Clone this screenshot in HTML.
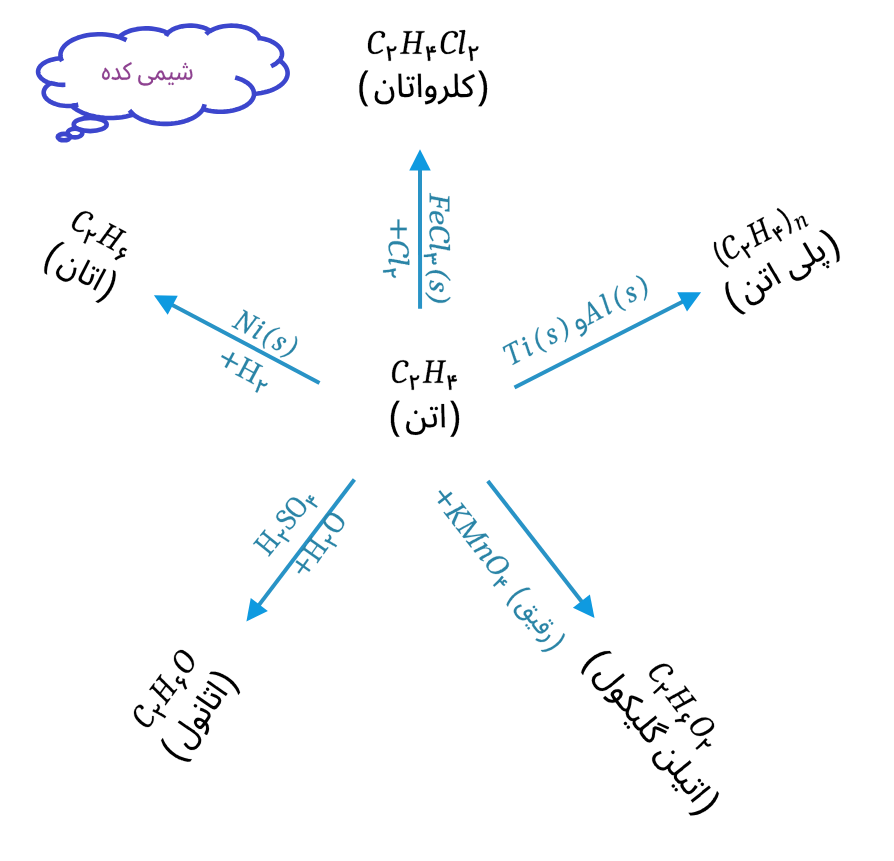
<!DOCTYPE html><html><head><meta charset="utf-8"><style>html,body{margin:0;padding:0;background:#fff;width:894px;height:861px;overflow:hidden;font-family:"Liberation Sans",sans-serif}svg{position:absolute;left:0;top:0}</style></head><body>
<svg width="894" height="861" viewBox="0 0 894 861">
<rect width="894" height="861" fill="#fff"/>
<g fill="none" stroke="#3c46cd" stroke-width="4.60">
<path d="M60.80,57.97 L60.57,56.86 L60.46,55.75 L60.45,54.64 L60.56,53.54 L60.77,52.43 L61.10,51.31 L61.56,50.19 L62.13,49.06 L62.85,47.92 L63.71,46.78 L64.73,45.62 L65.93,44.46 L67.32,43.30 L68.91,42.14 L70.74,41.00 L72.80,39.88 L75.12,38.81 L77.71,37.80 L80.56,36.86 L83.67,36.04 L87.01,35.34 L90.56,34.80 L94.25,34.44 L98.04,34.27 L101.86,34.30 L105.63,34.53 L109.28,34.94 L112.78,35.53 L116.05,36.27 L119.09,37.13 L120.06,36.22 L121.18,35.31 L122.47,34.40 L123.93,33.51 L125.58,32.64 L127.44,31.81 L129.50,31.02 L131.77,30.30 L134.23,29.67 L136.88,29.14 L139.68,28.74 L142.59,28.47 L145.56,28.36 L148.55,28.40 L151.49,28.60 L154.35,28.94 L157.07,29.41 L159.62,30.00 L161.98,30.68 L164.14,31.43 L166.09,32.25 L167.84,33.10 L168.60,32.35 L169.48,31.59 L170.50,30.84 L171.66,30.09 L172.98,29.36 L174.47,28.66 L176.13,27.99 L177.97,27.37 L179.97,26.83 L182.14,26.36 L184.43,26.00 L186.83,25.75 L189.30,25.63 L191.78,25.64 L194.24,25.78 L196.63,26.04 L198.91,26.42 L201.05,26.90 L203.04,27.45 L204.85,28.08 L206.49,28.75 L207.95,29.46 L209.25,30.19 L210.39,30.94 L211.75,30.14 L213.27,29.37 L214.98,28.63 L216.87,27.94 L218.94,27.31 L221.18,26.75 L223.57,26.30 L226.10,25.95 L228.72,25.73 L231.39,25.64 L234.07,25.69 L236.71,25.88 L239.27,26.19 L241.70,26.62 L243.99,27.14 L246.11,27.76 L248.05,28.43 L249.80,29.16 L251.38,29.93 L252.78,30.72 L254.02,31.52 L255.10,32.34 L256.05,33.16 L256.86,33.97 L257.56,34.78 L258.15,35.59 L258.64,36.39 L259.03,37.19 L259.34,37.98 L262.03,38.44 L264.55,39.02 L266.89,39.69 L269.04,40.44 L270.98,41.24 L272.71,42.08 L274.26,42.95 L275.63,43.84 L276.83,44.74 L277.87,45.64 L278.77,46.53 L279.54,47.43 L280.19,48.31 L280.73,49.19 L281.17,50.07 L281.51,50.93 L281.76,51.79 L281.93,52.65 L282.01,53.51 L282.01,54.36 L281.93,55.22 L281.76,56.07 L281.51,56.94 L281.16,57.80 L280.72,58.68 L280.18,59.56 L279.53,60.44 L281.06,61.59 L282.39,62.74 L283.54,63.89 L284.52,65.03 L285.34,66.16 L286.03,67.29 L286.58,68.40 L287.00,69.51 L287.32,70.62 L287.52,71.71 L287.61,72.81 L287.60,73.90 L287.47,75.00 L287.24,76.10 L286.90,77.20 L286.44,78.31 L285.85,79.43 L285.13,80.56 L284.27,81.70 L283.25,82.84 L282.05,83.99 L280.67,85.14 L279.08,86.28 L277.27,87.41 L275.23,88.52 L272.93,89.58 L270.38,90.59 L267.57,91.51 L264.51,92.34 L261.21,93.03 L257.72,93.58 L254.07,93.96 L254.01,94.89 L253.86,95.83 L253.61,96.77 L253.26,97.72 L252.82,98.67 L252.26,99.63 L251.58,100.59 L250.77,101.57 L249.82,102.55 L248.71,103.53 L247.44,104.51 L245.99,105.48 L244.34,106.43 L242.48,107.36 L240.41,108.24 L238.11,109.07 L235.59,109.82 L232.87,110.46 L229.96,110.99 L226.90,111.38 L223.74,111.62 L220.52,111.70 L217.31,111.60 L214.15,111.35 L211.11,110.94 L208.22,110.40 L205.52,109.74 L203.03,108.98 L202.32,110.12 L201.47,111.26 L200.46,112.42 L199.27,113.57 L197.90,114.73 L196.32,115.89 L194.52,117.03 L192.47,118.15 L190.17,119.23 L187.60,120.25 L184.77,121.19 L181.68,122.03 L178.36,122.73 L174.83,123.28 L171.14,123.66 L167.36,123.84 L163.54,123.83 L159.77,123.61 L156.11,123.21 L152.60,122.63 L149.31,121.90 L146.26,121.05 L143.47,120.10 L140.95,119.07 L138.69,117.98 L136.68,116.86 L134.91,115.71 L133.37,114.55 L129.86,115.58 L126.05,116.45 L121.99,117.16 L117.72,117.66 L113.31,117.93 L108.85,117.96 L104.42,117.76 L100.11,117.33 L95.98,116.68 L92.09,115.85 L88.49,114.87 L85.20,113.76 L82.23,112.56 L79.57,111.29 L77.22,109.98 L75.15,108.64 L73.35,107.29 L71.79,105.93 L69.37,106.02 L66.95,105.98 L64.55,105.82 L62.24,105.55 L60.03,105.16 L57.95,104.69 L56.03,104.14 L54.27,103.53 L52.68,102.87 L51.25,102.18 L49.99,101.46 L48.87,100.73 L47.89,100.00 L47.03,99.26 L46.30,98.52 L45.67,97.78 L45.14,97.05 L44.71,96.33 L44.36,95.61 L44.08,94.90 L43.89,94.19 L43.76,93.48 L43.71,92.77 L43.72,92.07 L43.80,91.36 L43.96,90.65 L44.19,89.94 L44.49,89.23 L44.88,88.51 L45.35,87.78 L45.92,87.05 L46.59,86.31 L47.37,85.57 L48.27,84.83 L49.31,84.10 L50.49,83.37 L48.75,82.77 L47.17,82.12 L45.75,81.43 L44.48,80.73 L43.37,80.01 L42.39,79.28 L41.54,78.55 L40.80,77.82 L40.17,77.09 L39.63,76.37 L39.19,75.66 L38.82,74.95 L38.54,74.25 L38.33,73.55 L38.18,72.86 L38.11,72.16 L38.10,71.47 L38.15,70.78 L38.28,70.08 L38.47,69.39 L38.73,68.69 L39.07,67.98 L39.49,67.27 L40.00,66.55 L40.60,65.83 L41.30,65.10 L42.12,64.37 L43.06,63.64 L44.13,62.92 L45.35,62.20 L46.72,61.51 L48.25,60.85 L49.95,60.23 L51.81,59.66 L53.82,59.17 L55.97,58.77 L58.24,58.46 L60.59,58.27 Z M65.37,84.80 62.74,84.84 L60.12,84.73 L57.57,84.47 L55.14,84.09 L52.86,83.59 L50.76,82.99 M78.26,104.63 76.75,104.92 L75.17,105.17 L73.54,105.36 L71.87,105.50 M133.35,114.16 132.19,113.16 L131.17,112.17 L130.28,111.18 L129.50,110.20 M204.59,104.29 204.37,105.37 L204.05,106.45 L203.61,107.54 L203.05,108.63 M235.17,77.48 237.77,78.23 L240.14,79.07 L242.28,79.98 L244.18,80.92 L245.87,81.90 L247.36,82.90 L248.65,83.90 L249.77,84.91 L250.73,85.91 L251.54,86.91 L252.22,87.89 L252.77,88.88 L253.21,89.85 L253.54,90.82 L253.77,91.78 L253.90,92.74 L253.93,93.70 M279.41,60.20 278.52,61.23 L277.45,62.25 L276.19,63.28 L274.72,64.31 L273.01,65.31 L271.06,66.28 M259.37,37.63 259.58,38.36 L259.72,39.07 L259.80,39.79 L259.81,40.51 M206.04,34.28 206.86,33.37 L207.83,32.45 L208.98,31.53 L210.32,30.62 M166.02,36.03 166.38,35.25 L166.84,34.46 L167.41,33.67 L168.09,32.87 M119.06,37.10 121.16,37.81 L123.10,38.56 L124.90,39.35 L126.56,40.17 M62.11,61.19 61.68,60.38 L61.32,59.57 L61.03,58.77 L60.80,57.97" stroke-linejoin="round"/>
<ellipse cx="90.2" cy="124.5" rx="16.5" ry="6.6"/>
<ellipse cx="75" cy="133" rx="7.3" ry="4.4"/>
<ellipse cx="64" cy="137.1" rx="6.3" ry="3.2"/>
</g>
<line x1="420.05" y1="308.70" x2="420.01" y2="169.50" stroke="#2893c6" stroke-width="4.00"/><path d="M420.00 149.20L430.76 170.50L409.26 170.50Z" fill="#0f9ae0"/>
<line x1="319.50" y1="383.00" x2="171.84" y2="304.71" stroke="#2893c6" stroke-width="4.00"/><path d="M153.90 295.20L177.75 295.68L167.68 314.68Z" fill="#0f9ae0"/>
<line x1="514.50" y1="387.50" x2="683.02" y2="301.43" stroke="#2893c6" stroke-width="4.00"/><path d="M701.10 292.20L687.02 311.46L677.24 292.31Z" fill="#0f9ae0"/>
<line x1="354.40" y1="479.50" x2="258.69" y2="605.34" stroke="#2893c6" stroke-width="4.00"/><path d="M246.40 621.50L250.74 598.04L267.85 611.05Z" fill="#0f9ae0"/>
<line x1="487.80" y1="481.00" x2="582.03" y2="601.98" stroke="#2893c6" stroke-width="4.00"/><path d="M594.50 618.00L572.93 607.80L589.89 594.59Z" fill="#0f9ae0"/>
<path transform="translate(423.30 45.45) rotate(0.00) scale(1.0502 1.0049) translate(-52.750 -15.375)" d="M104.88 16.38L103.62 16.38L103.38 16.12L102.88 17.88L102.12 18.62L101.38 18.62L101.12 18.88L99.12 18.62L98.62 18.12L98.12 16.12L95.88 16.62L96.38 19.62L96.62 19.88L96.62 21.12L96.88 21.38L96.88 22.88L97.12 23.12L97.38 27.12L97.62 27.38L97.62 30.62L99.88 30.62L99.88 26.62L99.62 26.38L99.62 23.88L99.38 23.62L99.12 21.12L99.38 20.88L101.12 21.12L103.62 20.38L104.38 19.62L105.12 17.88L105.12 16.88L105.38 16.62ZM63.88 16.12L61.38 16.12L60.12 16.88L59.62 17.88L59.62 19.12L60.12 19.88L59.88 20.38L58.62 20.38L58.38 20.12L58.38 19.12L58.12 18.88L58.12 17.88L57.62 16.12L55.38 16.62L55.88 19.62L56.12 19.88L56.12 21.12L56.38 21.38L56.38 22.88L56.62 23.12L56.88 27.12L57.12 27.38L57.12 30.62L59.38 30.62L59.38 26.88L59.12 26.62L58.88 22.62L59.12 22.38L63.12 22.38L64.88 21.62L64.62 19.62L63.38 20.12L62.62 20.12L61.62 18.88L62.12 18.12L63.88 18.12L63.88 16.62L64.12 16.38ZM26.88 16.38L25.62 16.38L25.38 16.12L24.88 17.88L24.12 18.62L23.38 18.62L23.12 18.88L20.88 18.62L20.38 17.88L20.12 16.12L17.88 16.62L18.38 19.88L18.62 20.12L18.62 21.38L18.88 21.62L18.88 23.38L19.12 23.62L19.12 25.38L19.38 25.62L19.38 27.88L19.62 28.12L19.62 30.62L21.88 30.62L21.88 27.38L21.62 27.12L21.62 24.62L21.38 24.38L21.12 21.12L21.38 20.88L22.12 21.12L24.38 20.88L25.88 20.12L26.88 18.62L26.88 17.88L27.12 17.62L27.12 16.62ZM33.88 1.12L33.88 2.12L34.12 2.38L35.12 2.38L36.62 3.12L36.38 5.88L36.12 6.12L36.12 7.38L35.62 9.12L35.62 10.62L35.38 10.88L35.38 12.12L34.88 13.88L34.88 15.38L34.62 15.62L33.88 21.38L33.12 22.12L30.88 22.62L30.88 23.38L30.62 23.62L39.38 23.62L39.38 22.62L37.88 22.38L36.62 21.62L36.62 20.12L36.88 19.88L36.88 18.62L37.38 16.88L37.62 13.88L38.12 12.88L46.38 12.88L46.62 13.12L46.62 14.62L46.38 14.88L46.38 16.38L46.12 16.62L46.12 17.88L45.62 19.62L45.62 21.12L45.12 21.88L43.38 22.62L42.62 22.62L42.62 23.62L51.12 23.62L51.12 22.62L48.88 22.12L48.12 21.62L48.12 21.12L48.38 20.88L48.38 19.62L48.88 17.88L48.88 16.38L49.12 16.12L49.12 14.88L49.62 13.12L49.62 11.62L49.88 11.38L49.88 10.12L50.38 8.38L50.88 3.88L51.38 2.88L53.88 2.12L53.88 1.12L45.62 1.12L45.62 1.88L45.38 2.12L47.38 2.62L48.38 3.38L48.12 3.88L48.12 5.12L47.88 5.38L47.38 9.88L46.88 11.38L38.38 11.38L38.12 10.62L38.38 10.38L38.38 9.12L38.62 8.88L38.62 7.38L38.88 7.12L39.38 3.38L40.88 2.38L42.12 2.12L42.38 1.12ZM83.38 1.38L81.62 1.12L81.38 0.88L79.62 0.88L79.38 1.12L76.88 1.38L74.12 2.88L72.12 5.12L70.88 7.38L69.62 11.88L69.38 17.38L70.38 20.88L70.88 21.62L72.88 23.38L74.38 23.88L78.12 23.62L81.62 22.12L83.88 20.38L82.88 19.12L79.12 21.62L77.38 21.88L77.12 22.12L75.38 22.12L74.38 21.62L73.38 20.62L72.62 18.88L72.62 17.62L72.38 17.38L72.62 12.38L72.88 12.12L72.88 10.88L73.62 8.88L73.62 8.12L75.38 4.88L76.88 3.38L78.38 2.62L79.38 2.62L79.62 2.38L81.12 2.62L82.62 3.88L82.88 4.62L82.62 4.88L82.62 5.62L82.12 6.12L82.12 6.88L82.62 7.38L84.12 7.62L85.38 6.62L85.88 4.88L85.62 3.62L85.12 2.62ZM13.88 1.38L12.12 1.12L11.88 0.88L10.38 0.88L10.12 1.12L8.62 1.12L6.38 1.88L5.12 2.62L2.88 4.88L1.62 7.12L1.62 7.62L0.88 9.12L0.88 9.88L0.38 11.12L0.38 12.62L0.12 12.88L0.12 18.12L0.38 18.38L0.62 20.12L1.62 21.88L2.38 22.62L4.12 23.62L4.88 23.62L5.12 23.88L8.88 23.62L11.38 22.62L14.38 20.62L14.38 20.12L13.88 19.38L13.38 19.12L12.62 19.88L9.62 21.62L7.88 21.88L7.62 22.12L6.12 22.12L4.38 21.12L3.62 20.12L3.12 18.38L3.12 13.38L3.38 13.12L3.38 11.62L3.62 11.38L3.62 10.38L4.38 7.88L5.62 5.38L7.88 3.12L9.12 2.62L10.88 2.38L12.38 2.88L13.38 4.12L13.38 5.38L12.62 6.38L12.88 6.88L13.88 7.62L14.88 7.62L15.38 7.38L16.12 6.38L16.38 3.88L15.88 2.88L14.88 1.88ZM92.12 0.12L87.12 0.62L87.12 1.62L87.38 1.88L88.62 1.88L89.12 2.12L89.62 2.88L89.38 5.38L89.12 5.62L89.12 7.12L88.88 7.38L88.88 8.62L88.62 8.88L88.62 10.12L88.38 10.38L88.38 11.62L87.88 13.38L87.88 14.88L87.62 15.12L87.62 16.38L87.12 18.12L86.88 21.38L86.62 21.62L86.88 23.38L87.62 23.88L88.88 23.88L90.38 23.38L92.12 22.12L92.12 21.38L91.88 21.12L91.12 21.62L89.88 21.62L89.38 21.12L89.62 20.62L89.62 19.38L89.88 19.12L90.38 14.62L90.62 14.38L90.62 13.12L90.88 12.88L90.88 11.62L91.12 11.38L91.12 10.12L91.38 9.88L91.38 8.62L91.62 8.38L91.62 6.88L91.88 6.62L91.88 5.38L92.38 3.62L92.38 2.12L92.62 1.88L92.62 0.62Z" fill="#000" stroke="#000" stroke-width="0.20" vector-effect="non-scaling-stroke"/>
<path transform="translate(423.30 88.50) rotate(0.00) scale(0.9942 1.0213) translate(-64.375 -17.625)" d="M33.12 15.88L32.62 15.62L30.12 16.88L30.88 18.12L31.88 20.88L32.12 23.62L32.38 23.88L31.88 26.38L30.88 28.12L30.12 28.88L28.38 29.88L26.12 30.12L25.88 30.38L22.62 30.12L20.62 29.38L18.88 27.62L18.38 26.38L18.38 24.38L19.38 20.88L16.88 19.88L15.88 22.38L15.62 25.12L15.38 25.38L15.88 28.62L16.62 29.88L18.38 31.62L21.12 32.88L22.12 32.88L22.38 33.12L27.38 33.12L29.88 32.38L31.62 31.38L33.88 28.88L35.12 25.38L35.12 21.88L34.88 21.62L34.88 20.62ZM74.12 15.12L73.38 14.88L70.88 14.88L69.12 15.88L68.12 16.88L67.38 18.12L66.62 20.38L66.62 23.12L67.12 24.38L67.88 25.12L69.38 25.88L70.38 25.88L70.62 26.12L73.88 25.88L74.12 26.12L73.88 26.62L71.38 28.88L67.62 30.12L66.12 30.12L65.88 30.62L66.12 30.88L66.38 33.12L68.12 33.12L72.62 31.62L73.88 30.88L75.88 28.88L76.62 27.62L76.62 27.12L77.12 26.38L77.38 23.88L77.62 23.62L77.38 20.12L76.38 17.38L75.88 16.62ZM71.12 17.88L72.12 17.62L73.12 18.12L74.12 19.38L74.62 20.88L74.62 22.62L74.12 23.12L71.38 23.38L70.62 23.12L69.62 22.12L69.38 21.62L69.62 19.62ZM24.62 9.62L23.62 10.88L23.62 11.88L23.88 12.38L24.62 12.88L25.88 12.88L26.38 12.62L26.88 11.88L26.88 10.62L26.62 10.12L25.88 9.62ZM54.88 6.12L53.88 5.88L52.62 6.62L52.38 8.12L53.12 9.12L54.62 9.12L55.12 8.88L55.62 8.12L55.62 7.12ZM48.38 6.12L47.62 6.88L47.62 8.12L47.88 8.62L48.62 9.12L49.88 9.12L50.38 8.88L50.88 8.12L50.62 6.62L49.38 5.88ZM115.38 3.88L114.62 3.62L107.62 7.12L104.88 8.88L103.88 9.88L103.62 10.62L103.62 12.38L106.38 14.62L110.12 18.38L111.12 20.12L111.12 21.62L110.12 22.62L108.38 22.88L108.12 23.12L102.12 23.12L100.62 22.62L99.62 21.38L99.38 20.62L99.38 19.12L99.12 18.88L99.12 11.88L98.88 11.62L98.88 4.12L98.62 3.88L98.62 3.12L95.88 3.12L96.12 17.62L96.38 17.88L96.38 21.12L95.88 22.38L94.12 23.12L91.88 23.12L90.62 22.62L89.62 21.38L88.88 18.62L87.12 14.88L84.62 16.12L84.62 16.62L85.38 17.88L86.38 20.62L86.38 21.62L86.62 21.88L86.38 24.12L85.38 26.12L83.12 28.38L82.12 29.12L78.62 30.62L79.62 33.12L81.12 32.88L83.12 31.88L85.62 30.12L87.12 28.62L88.12 27.12L89.12 24.62L89.88 25.38L92.12 26.12L96.12 25.62L97.38 24.88L98.38 23.88L99.62 25.38L102.12 26.12L109.12 25.88L111.62 25.12L113.38 23.62L114.12 21.62L113.62 18.88L112.12 16.38L106.62 11.12L108.88 9.62L115.38 6.38L115.88 6.38L116.12 5.62ZM58.88 3.12L58.88 5.12L59.12 5.38L59.12 14.12L59.38 14.38L59.38 22.88L59.62 23.12L59.62 25.88L62.38 25.88L61.88 3.12ZM39.12 3.12L39.38 3.38L39.88 21.62L40.62 24.12L41.62 25.12L42.62 25.62L45.12 25.88L45.38 26.12L49.88 25.88L52.38 24.88L53.62 23.88L54.38 22.38L54.38 21.12L54.62 20.88L54.38 17.12L53.12 12.88L52.62 12.62L50.12 13.62L51.12 16.38L51.62 19.38L51.88 19.62L51.88 20.62L51.38 22.12L50.38 22.88L49.38 22.88L49.12 23.12L45.12 23.12L43.88 22.62L43.38 22.12L42.88 20.88L42.12 3.12ZM119.62 0.12L121.12 2.38L122.88 5.88L123.12 7.12L123.88 8.62L123.88 9.38L124.62 11.62L124.88 14.38L125.12 14.62L125.12 20.88L124.88 21.12L124.62 24.12L122.88 29.62L121.38 32.62L119.62 35.12L122.88 35.12L124.88 32.38L126.38 29.38L127.38 26.62L127.88 23.62L128.12 23.38L128.12 21.88L128.38 21.62L128.38 18.62L128.62 18.38L128.62 17.38L128.38 17.12L128.38 13.88L128.12 13.62L128.12 12.12L127.88 11.88L127.88 10.88L127.38 9.88L127.12 8.12L124.88 3.12L122.62 0.12ZM5.88 0.12L2.88 4.62L1.12 9.12L0.62 12.12L0.38 12.38L0.38 13.88L0.12 14.12L0.12 21.62L0.38 21.88L0.38 23.38L0.62 23.62L0.62 24.62L1.38 26.62L1.38 27.38L1.88 28.12L2.38 29.88L4.12 33.12L5.88 35.12L8.88 35.12L7.12 32.62L5.38 28.88L3.88 23.88L3.62 20.88L3.38 20.62L3.38 15.12L3.62 14.88L3.62 12.88L3.88 12.62L3.88 11.62L4.12 11.38L4.62 8.62L5.38 7.12L5.62 5.88L7.12 2.88L8.88 0.38L8.88 0.12Z" fill="#000" stroke="#000" stroke-width="0.12" vector-effect="non-scaling-stroke"/>
<path transform="translate(424.52 374.98) rotate(0.00) scale(0.9992 0.9950) translate(-32.500 -15.000)" d="M63.88 15.38L61.38 15.38L60.12 16.12L59.62 17.12L59.62 18.38L60.12 19.12L59.88 19.62L58.62 19.62L58.38 19.38L58.38 18.38L58.12 18.12L58.12 17.12L57.62 15.38L55.38 15.88L55.88 18.88L56.12 19.12L56.12 20.38L56.38 20.62L56.38 22.12L56.62 22.38L56.88 26.38L57.12 26.62L57.12 29.88L59.38 29.88L59.38 26.12L59.12 25.88L58.88 21.88L59.12 21.62L63.12 21.62L64.88 20.88L64.62 18.88L63.38 19.38L62.62 19.38L61.62 18.12L62.12 17.38L63.88 17.38L63.88 15.88L64.12 15.62ZM26.88 15.62L25.62 15.62L25.38 15.38L24.88 17.12L24.12 17.88L23.38 17.88L23.12 18.12L20.88 17.88L20.38 17.12L20.12 15.38L17.88 15.88L18.38 19.12L18.62 19.38L18.62 20.62L18.88 20.88L18.88 22.62L19.12 22.88L19.12 24.62L19.38 24.88L19.38 27.12L19.62 27.38L19.62 29.88L21.88 29.88L21.88 26.62L21.62 26.38L21.62 23.88L21.38 23.62L21.12 20.38L21.38 20.12L22.12 20.38L24.38 20.12L25.88 19.38L26.88 17.88L26.88 17.12L27.12 16.88L27.12 15.88ZM33.88 0.38L33.88 1.38L34.12 1.62L35.12 1.62L36.62 2.38L36.38 5.12L36.12 5.38L36.12 6.62L35.62 8.38L35.62 9.88L35.38 10.12L35.38 11.38L34.88 13.12L34.88 14.62L34.62 14.88L33.88 20.62L33.12 21.38L30.88 21.88L30.88 22.62L30.62 22.88L39.38 22.88L39.38 21.88L37.88 21.62L36.62 20.88L36.62 19.38L36.88 19.12L36.88 17.88L37.38 16.12L37.62 13.12L38.12 12.12L46.38 12.12L46.62 12.38L46.62 13.88L46.38 14.12L46.38 15.62L46.12 15.88L46.12 17.12L45.62 18.88L45.62 20.38L45.12 21.12L43.38 21.88L42.62 21.88L42.62 22.88L51.12 22.88L51.12 21.88L48.88 21.38L48.12 20.88L48.12 20.38L48.38 20.12L48.38 18.88L48.88 17.12L48.88 15.62L49.12 15.38L49.12 14.12L49.62 12.38L49.62 10.88L49.88 10.62L49.88 9.38L50.38 7.62L50.88 3.12L51.38 2.12L53.88 1.38L53.88 0.38L45.62 0.38L45.62 1.12L45.38 1.38L47.38 1.88L48.38 2.62L48.12 3.12L48.12 4.38L47.88 4.62L47.38 9.12L46.88 10.62L38.38 10.62L38.12 9.88L38.38 9.62L38.38 8.38L38.62 8.12L38.62 6.62L38.88 6.38L39.38 2.62L40.88 1.62L42.12 1.38L42.38 0.38ZM13.88 0.62L12.12 0.38L11.88 0.12L10.38 0.12L10.12 0.38L8.62 0.38L6.38 1.12L5.12 1.88L2.88 4.12L1.62 6.38L1.62 6.88L0.88 8.38L0.88 9.12L0.38 10.38L0.38 11.88L0.12 12.12L0.12 17.38L0.38 17.62L0.62 19.38L1.62 21.12L2.38 21.88L4.12 22.88L4.88 22.88L5.12 23.12L8.88 22.88L11.38 21.88L14.38 19.88L14.38 19.38L13.88 18.62L13.38 18.38L12.62 19.12L9.62 20.88L7.88 21.12L7.62 21.38L6.12 21.38L4.38 20.38L3.62 19.38L3.12 17.62L3.12 12.62L3.38 12.38L3.38 10.88L3.62 10.62L3.62 9.62L4.38 7.12L5.62 4.62L7.88 2.38L9.12 1.88L10.88 1.62L12.38 2.12L13.38 3.38L13.38 4.62L12.62 5.62L12.88 6.12L13.88 6.88L14.88 6.88L15.38 6.62L16.12 5.62L16.38 3.12L15.88 2.12L14.88 1.12Z" fill="#000" stroke="#000" stroke-width="0.20" vector-effect="non-scaling-stroke"/>
<path transform="translate(425.05 418.80) rotate(0.00) scale(0.9892 1.0270) translate(-34.625 -17.625)" d="M45.12 12.88L44.62 12.62L42.12 13.62L43.12 16.38L43.62 19.38L43.88 19.62L43.62 21.62L43.38 22.12L42.38 22.88L41.38 22.88L41.12 23.12L37.62 23.12L37.38 22.88L36.62 22.88L36.12 22.62L34.88 21.12L33.88 16.88L33.62 16.62L32.88 16.62L32.62 16.88L30.88 17.12L30.88 17.88L32.12 22.12L32.12 24.38L32.38 24.62L32.12 24.88L32.12 26.38L31.38 27.88L30.12 29.12L27.88 30.12L26.88 30.12L26.62 30.38L23.38 30.38L23.12 30.12L21.38 29.88L20.12 29.12L19.12 28.12L18.38 26.38L18.38 24.38L19.38 20.88L16.88 19.88L16.12 21.62L16.12 22.38L15.62 23.62L15.62 25.38L15.38 25.62L16.12 29.12L17.12 30.62L19.62 32.38L21.12 32.88L22.12 32.88L22.38 33.12L24.12 33.12L24.38 33.38L27.62 33.12L27.88 32.88L29.62 32.62L31.62 31.62L33.62 29.62L34.62 27.62L34.88 25.88L35.38 25.12L36.88 25.88L40.12 26.12L40.38 25.88L42.88 25.62L44.38 24.88L45.62 23.88L46.38 22.38L46.38 21.12L46.62 20.88L46.38 17.12ZM24.62 9.62L23.62 10.88L23.62 11.88L23.88 12.38L24.62 12.88L25.88 12.88L26.38 12.62L26.88 11.88L26.88 10.62L26.62 10.12L25.88 9.62ZM46.88 6.12L45.88 5.88L44.62 6.62L44.38 8.12L45.12 9.12L46.62 9.12L47.12 8.88L47.62 8.12L47.62 7.12ZM40.38 6.12L39.62 6.88L39.62 8.12L39.88 8.62L40.62 9.12L41.88 9.12L42.38 8.88L42.88 8.12L42.62 6.62L41.38 5.88ZM51.12 3.12L51.12 11.88L51.38 12.12L51.62 25.88L54.62 25.88L54.62 24.88L54.38 24.62L54.38 15.88L54.12 15.62L53.88 3.12ZM60.12 0.12L61.62 2.38L63.38 5.88L63.62 7.12L64.38 8.62L64.38 9.38L65.12 11.62L65.38 14.38L65.62 14.62L65.62 20.88L65.38 21.12L65.12 24.12L63.38 29.62L61.88 32.62L60.12 35.12L63.38 35.12L65.38 32.38L66.88 29.38L67.88 26.62L68.38 23.62L68.62 23.38L68.62 21.88L68.88 21.62L68.88 18.62L69.12 18.38L69.12 17.38L68.88 17.12L68.88 13.88L68.62 13.62L68.62 12.12L68.38 11.88L68.38 10.88L67.88 9.88L67.62 8.12L65.38 3.12L63.12 0.12ZM5.88 0.12L2.88 4.62L1.12 9.12L0.62 12.12L0.38 12.38L0.38 13.88L0.12 14.12L0.12 21.62L0.38 21.88L0.38 23.38L0.62 23.62L0.62 24.62L1.38 26.62L1.38 27.38L1.88 28.12L2.38 29.88L4.12 33.12L5.88 35.12L8.88 35.12L7.12 32.62L5.38 28.88L3.88 23.88L3.62 20.88L3.38 20.62L3.38 15.12L3.62 14.88L3.62 12.88L3.88 12.62L3.88 11.62L4.12 11.38L4.62 8.62L5.38 7.12L5.62 5.88L7.12 2.88L8.88 0.38L8.88 0.12Z" fill="#000" stroke="#000" stroke-width="0.12" vector-effect="non-scaling-stroke"/>
<path transform="translate(437.25 247.90) rotate(90.00) scale(1.1390 0.9607) translate(-48.375 -14.000)" d="M62.38 14.62L60.62 15.12L61.12 16.38L61.12 16.88L60.62 17.62L59.62 17.62L59.12 17.12L59.12 15.88L59.38 15.62L59.12 15.38L57.62 15.38L57.38 17.12L56.38 17.88L55.38 17.12L54.88 14.62L52.62 15.12L53.12 16.38L53.62 20.38L53.88 20.62L54.12 24.62L54.38 24.88L54.38 27.88L56.38 27.88L56.38 23.62L56.12 23.38L55.88 19.88L56.12 19.62L57.62 19.62L58.38 18.88L59.38 19.62L61.88 19.38L62.88 18.12L62.88 16.12ZM84.62 7.38L82.38 7.38L80.12 8.38L79.12 9.62L78.88 11.38L78.62 11.62L79.38 13.88L83.12 17.62L83.38 18.12L83.38 19.38L83.12 19.88L81.88 20.88L80.12 20.88L78.62 19.62L78.62 17.62L78.38 17.38L77.62 17.38L77.12 19.88L76.88 20.12L76.88 21.12L79.62 22.12L81.38 22.12L84.12 21.12L85.12 20.12L85.88 17.88L85.62 16.38L84.62 14.88L81.12 11.62L81.12 10.88L80.88 10.62L81.12 10.38L81.12 9.62L82.12 8.62L84.12 8.62L84.88 9.38L84.88 10.38L84.38 10.88L84.38 11.38L85.38 11.88L86.38 11.62L87.12 10.88L87.12 9.12L86.38 8.12ZM25.62 7.62L24.88 7.62L24.62 7.38L21.38 7.62L18.88 9.12L17.38 11.12L16.62 12.88L16.38 14.88L16.12 15.12L16.12 18.38L16.62 19.88L17.62 21.12L19.88 22.12L21.62 22.12L21.88 21.88L22.88 21.88L24.38 21.38L26.38 19.88L25.88 18.88L25.62 18.88L23.88 20.12L23.38 20.12L22.62 20.62L20.62 20.62L19.12 19.38L18.62 17.62L18.62 16.12L18.88 15.88L20.38 15.88L20.62 15.62L21.88 15.62L23.62 15.12L25.88 13.88L27.12 12.62L27.62 11.62L27.62 9.62L27.12 8.62ZM24.12 8.62L25.12 9.62L25.12 11.38L24.62 12.38L23.88 13.12L22.12 14.12L19.12 14.62L18.88 14.38L19.12 12.62L19.62 11.88L19.62 11.38L20.88 9.62L22.38 8.62ZM16.38 1.38L3.12 1.38L3.12 2.38L5.12 2.88L5.62 3.38L5.62 4.38L5.38 4.62L5.38 5.88L5.12 6.12L5.12 7.38L4.62 9.12L4.62 10.62L4.38 10.88L4.38 12.12L3.88 13.88L3.88 15.38L3.62 15.62L3.12 19.88L2.12 20.62L0.38 20.88L0.12 21.12L0.12 21.88L8.38 21.88L8.38 20.88L6.38 20.62L5.62 20.12L5.62 18.38L5.88 18.12L6.62 12.62L6.88 12.38L10.38 12.38L11.12 12.88L11.62 14.62L12.38 14.62L13.12 9.12L13.38 8.88L12.38 8.88L12.12 9.62L10.88 10.88L7.12 10.88L6.88 10.62L7.12 10.38L8.12 3.12L8.38 2.88L13.88 2.88L14.38 3.38L14.88 4.88L14.88 5.88L15.62 6.12L16.12 5.88L16.38 1.88L16.62 1.62ZM41.62 1.38L38.88 1.12L38.62 1.38L36.12 1.62L34.62 2.38L32.38 4.38L30.88 6.88L29.88 9.88L29.62 12.88L29.38 13.12L29.62 17.62L30.62 19.88L32.12 21.38L33.88 22.12L36.38 22.12L36.62 21.88L37.38 21.88L39.88 20.88L42.62 18.88L42.12 18.12L41.62 17.88L38.62 19.88L38.12 19.88L37.38 20.38L35.38 20.62L35.12 20.38L34.38 20.38L32.88 18.88L32.12 16.38L32.38 11.38L32.62 11.12L33.12 8.12L34.62 5.12L36.38 3.38L37.88 2.62L39.88 2.62L40.88 3.12L41.62 4.12L41.62 5.12L41.12 5.88L41.12 6.62L41.62 7.12L43.38 7.12L43.88 6.62L44.38 5.12L44.12 3.38L43.38 2.38ZM50.38 0.62L45.62 0.88L45.38 1.88L47.12 2.12L47.88 3.12L47.62 3.62L47.62 4.88L47.38 5.12L46.88 9.62L46.62 9.88L46.62 11.12L46.38 11.38L45.88 15.88L45.62 16.12L45.38 19.38L45.12 19.62L45.12 21.38L46.12 22.12L47.38 22.12L48.12 21.62L48.62 21.62L50.12 20.38L49.88 19.62L49.12 20.12L47.88 20.12L47.62 19.88L47.62 18.88L47.88 18.62L47.88 17.12L48.12 16.88L48.12 15.62L48.38 15.38L48.38 14.12L48.62 13.88L48.62 12.62L48.88 12.38L48.88 11.12L49.38 9.38L49.38 7.88L49.62 7.62L49.62 6.38L49.88 6.12L49.88 4.88L50.38 3.12L50.38 1.62L50.62 1.38ZM92.12 0.12L91.38 0.88L93.38 4.12L94.12 6.62L94.12 7.88L94.38 8.12L94.12 13.38L92.62 18.38L90.12 22.62L87.38 25.62L87.88 26.38L89.38 25.38L92.12 22.62L94.12 19.88L95.38 17.38L96.62 12.88L96.62 8.38L96.38 8.12L96.38 7.12L95.88 5.38L93.88 1.88ZM76.62 0.12L72.12 4.38L70.38 6.88L69.12 9.38L68.38 11.62L68.38 12.88L68.12 13.12L67.88 16.38L68.12 16.62L68.12 18.62L68.38 18.88L68.62 20.62L69.62 22.88L71.38 25.38L72.62 26.38L73.12 25.88L73.12 25.38L72.12 24.12L71.12 22.12L70.62 20.38L70.62 19.38L70.38 19.12L70.38 14.12L70.62 13.88L70.62 12.62L71.62 9.12L73.38 5.62L75.38 2.88L77.38 0.88Z" fill="#2a84a6" stroke="#2a84a6" stroke-width="0.20" vector-effect="non-scaling-stroke"/>
<path transform="translate(396.25 248.65) rotate(90.00) scale(1.1288 0.9725) translate(-26.000 -13.625)" d="M51.62 14.12L50.62 14.12L50.38 13.88L49.88 15.38L48.62 16.38L46.12 16.12L45.38 13.88L43.38 14.38L43.88 16.12L43.88 17.12L44.12 17.38L44.38 20.12L44.62 20.38L45.12 27.12L47.12 27.12L47.12 24.12L46.88 23.88L46.88 21.38L46.62 21.12L46.38 18.62L46.62 18.38L49.38 18.38L50.38 17.88L51.62 16.38L51.88 15.62L51.88 14.38ZM7.38 2.88L7.38 10.12L7.12 10.38L0.12 10.38L0.12 12.38L7.12 12.38L7.38 12.62L7.38 19.62L9.62 19.62L9.62 12.62L9.88 12.38L16.88 12.38L17.12 12.12L17.12 10.38L9.88 10.38L9.62 10.12L9.62 2.88ZM32.12 1.12L30.38 0.88L30.12 0.62L28.62 0.62L28.38 0.88L26.88 0.88L25.38 1.38L24.12 2.12L21.38 5.12L20.62 6.62L19.62 9.88L19.62 11.12L19.38 11.38L19.38 16.38L19.62 16.62L19.62 17.62L20.62 19.62L21.88 20.88L23.88 21.62L27.38 21.38L30.12 20.12L32.38 18.62L32.38 18.12L31.38 17.38L29.88 18.62L27.88 19.62L25.38 20.12L23.88 19.62L22.88 18.62L22.12 16.88L22.12 11.62L22.38 11.38L22.38 10.12L23.38 6.62L24.12 5.12L26.12 2.88L27.88 2.12L29.88 2.12L31.38 3.38L31.38 4.88L30.88 5.62L30.88 6.12L31.62 6.62L33.12 6.62L34.12 5.38L34.12 3.12L33.88 2.62ZM40.12 0.12L37.12 0.12L35.38 0.62L35.38 1.38L36.88 1.62L37.62 2.38L37.38 5.38L37.12 5.62L37.12 6.88L36.88 7.12L36.88 8.38L36.38 10.12L36.38 11.62L36.12 11.88L36.12 13.12L35.88 13.38L35.88 14.62L35.38 16.38L35.38 17.88L35.12 18.12L35.12 19.88L34.88 20.12L35.12 20.38L35.12 21.12L35.88 21.62L37.38 21.62L39.88 20.12L39.88 19.12L38.88 19.62L37.88 19.62L37.62 19.38L37.62 17.62L37.88 17.38L37.88 15.88L38.12 15.62L38.12 14.38L38.38 14.12L38.38 12.88L38.62 12.62L38.62 11.38L38.88 11.12L38.88 9.88L39.38 8.12L39.38 6.62L39.62 6.38L39.62 5.12L40.12 3.38L40.12 1.88L40.38 1.62L40.38 0.38Z" fill="#2a84a6" stroke="#2a84a6" stroke-width="0.20" vector-effect="non-scaling-stroke"/>
<path transform="translate(147.25 73.80) rotate(0.00) scale(0.7298 0.8496) translate(-62.000 -14.125)" d="M96.38 24.38L95.38 25.12L95.38 26.62L96.12 27.38L97.38 27.38L98.12 26.62L98.38 25.88L98.12 25.12L97.38 24.38ZM91.88 24.38L91.12 24.88L90.88 26.38L91.38 27.12L92.88 27.38L93.62 26.88L93.88 25.38L92.88 24.38ZM123.88 14.38L123.62 14.12L123.62 12.88L122.38 8.88L121.62 8.88L119.62 9.62L120.62 12.38L121.38 16.12L120.88 17.62L120.38 18.12L119.12 18.62L117.38 18.62L116.12 18.12L115.62 17.62L115.38 16.62L115.62 16.38L115.88 12.88L113.88 12.62L113.62 12.38L113.38 12.62L113.12 14.88L112.38 17.38L111.38 18.38L110.62 18.38L110.38 18.62L107.88 18.38L107.12 17.62L106.88 16.88L107.38 13.12L106.62 13.12L105.38 12.62L104.88 12.88L104.88 13.88L104.12 16.38L103.62 17.38L102.62 18.38L101.88 18.62L97.88 18.38L96.88 17.88L96.38 17.12L96.38 14.88L96.62 14.62L96.88 12.88L96.62 12.62L94.38 12.38L93.88 14.12L93.88 15.12L93.12 17.12L91.38 18.38L88.62 18.62L87.88 18.38L86.38 16.88L84.12 12.12L82.38 10.38L81.62 10.12L79.38 10.12L77.88 10.88L76.38 12.38L74.38 15.62L73.62 17.38L72.62 18.38L70.88 18.62L70.62 18.38L68.38 18.12L64.62 16.88L63.88 16.38L63.38 17.88L63.38 18.88L63.12 19.12L66.38 20.38L67.38 21.38L67.12 22.88L66.38 23.62L64.62 24.62L62.88 25.12L61.62 25.12L61.38 25.38L57.62 25.38L57.38 25.12L55.62 24.88L54.12 24.12L52.88 22.88L52.38 21.88L52.38 18.88L52.88 17.88L53.12 16.38L51.38 15.62L50.62 15.88L49.88 18.12L49.88 18.88L49.62 19.12L49.62 22.62L50.62 24.88L52.12 26.38L53.88 27.38L56.88 27.88L57.12 28.12L62.38 27.88L65.88 26.88L68.12 25.62L69.38 24.38L69.88 23.38L69.88 21.62L70.38 21.12L71.12 21.38L73.12 21.12L74.12 20.62L75.88 18.62L78.62 20.88L80.62 21.62L82.88 21.62L83.88 21.12L85.12 19.88L87.12 21.12L88.88 21.12L89.12 21.38L89.88 21.12L92.12 21.12L93.38 20.62L94.88 19.38L95.12 19.38L95.88 20.38L97.62 21.12L100.38 21.12L100.62 21.38L103.12 21.12L104.88 20.12L105.62 19.38L106.62 20.62L107.62 21.12L111.88 21.12L113.38 20.38L114.12 19.38L114.88 20.38L116.38 21.12L120.38 21.12L121.88 20.38L122.88 19.38L123.88 16.88ZM80.12 12.62L81.12 12.88L81.88 13.62L83.12 16.12L83.38 17.88L82.38 18.88L80.62 18.88L78.88 17.88L77.12 15.88L78.12 14.12L79.12 13.12ZM4.62 6.62L2.88 8.62L3.62 9.62L2.38 10.88L0.62 13.62L0.12 15.12L0.12 18.12L0.62 19.12L2.38 20.62L3.88 21.12L6.88 21.12L7.62 20.62L8.12 20.62L9.12 19.88L9.88 18.88L10.62 17.12L10.62 14.62L10.12 12.88L8.38 10.12ZM5.38 11.12L5.62 11.12L7.62 13.38L8.12 14.38L8.12 15.62L8.38 15.88L8.12 16.12L8.12 16.88L6.38 18.38L4.38 18.38L3.38 17.88L2.62 16.62L2.88 14.38L3.88 12.62ZM115.88 4.62L115.12 5.12L114.88 6.62L115.38 7.38L116.62 7.62L117.62 6.88L117.88 6.12L117.12 4.88ZM111.62 4.62L110.88 5.12L110.62 6.62L111.12 7.38L112.38 7.62L113.38 6.88L113.62 6.12L112.88 4.88ZM113.88 1.12L112.88 1.88L112.62 2.62L113.38 3.88L114.62 4.12L115.38 3.62L115.62 2.12L115.12 1.38ZM39.88 0.12L31.88 4.12L30.38 5.12L29.12 6.62L29.12 7.38L28.88 7.62L29.12 8.62L33.38 12.12L35.38 14.38L36.12 15.88L36.12 16.88L35.38 17.88L34.38 18.38L33.12 18.38L32.88 18.62L27.88 18.62L26.62 18.12L25.62 17.12L24.12 12.88L22.62 9.88L20.62 6.88L18.38 8.38L18.38 8.62L19.88 10.62L22.12 15.12L22.12 16.88L21.88 17.38L20.38 18.38L19.12 18.38L18.88 18.62L17.12 18.62L14.12 17.62L12.88 19.88L14.88 20.88L17.38 21.12L17.62 21.38L19.38 21.38L19.62 21.12L21.88 20.88L23.38 19.88L23.88 19.12L25.38 20.62L26.38 21.12L27.88 21.12L28.12 21.38L28.88 21.38L29.12 21.12L34.12 21.12L34.38 20.88L36.12 20.62L37.38 19.88L38.62 18.38L38.62 17.62L38.88 17.38L38.62 15.12L37.62 13.12L35.88 10.88L31.88 7.38L35.88 4.88L40.88 2.62Z" fill="#8e4290" stroke="#8e4290" stroke-width="0.10" vector-effect="non-scaling-stroke"/>
<path transform="translate(80.59 207.41) rotate(27.816) scale(0.9644 1.0000)" d="M62.88 15.62L62.12 15.38L59.62 15.38L57.62 16.38L56.88 17.38L56.62 18.12L56.62 20.62L57.12 21.62L58.38 22.88L59.62 23.62L59.12 23.88L58.12 25.12L55.88 28.88L56.12 29.38L57.62 30.12L58.12 30.12L59.12 28.12L61.38 25.12L64.38 22.62L63.38 20.62L61.62 21.88L60.88 21.88L58.88 20.12L58.88 18.88L59.62 17.88L60.12 17.62L62.62 17.62ZM26.88 15.62L25.62 15.62L25.38 15.38L24.88 17.12L24.12 17.88L23.38 17.88L23.12 18.12L20.88 17.88L20.38 17.12L20.12 15.38L17.88 15.88L18.38 19.12L18.62 19.38L18.62 20.62L18.88 20.88L18.88 22.62L19.12 22.88L19.12 24.62L19.38 24.88L19.38 27.12L19.62 27.38L19.62 29.88L21.88 29.88L21.88 26.62L21.62 26.38L21.62 23.88L21.38 23.62L21.12 20.38L21.38 20.12L22.12 20.38L24.38 20.12L25.88 19.38L26.88 17.88L26.88 17.12L27.12 16.88L27.12 15.88ZM33.88 0.38L33.88 1.38L34.12 1.62L35.12 1.62L36.62 2.38L36.38 5.12L36.12 5.38L36.12 6.62L35.62 8.38L35.62 9.88L35.38 10.12L35.38 11.38L34.88 13.12L34.88 14.62L34.62 14.88L33.88 20.62L33.12 21.38L30.88 21.88L30.88 22.62L30.62 22.88L39.38 22.88L39.38 21.88L37.88 21.62L36.62 20.88L36.62 19.38L36.88 19.12L36.88 17.88L37.38 16.12L37.62 13.12L38.12 12.12L46.38 12.12L46.62 12.38L46.62 13.88L46.38 14.12L46.38 15.62L46.12 15.88L46.12 17.12L45.62 18.88L45.62 20.38L45.12 21.12L43.38 21.88L42.62 21.88L42.62 22.88L51.12 22.88L51.12 21.88L48.88 21.38L48.12 20.88L48.12 20.38L48.38 20.12L48.38 18.88L48.88 17.12L48.88 15.62L49.12 15.38L49.12 14.12L49.62 12.38L49.62 10.88L49.88 10.62L49.88 9.38L50.38 7.62L50.88 3.12L51.38 2.12L53.88 1.38L53.88 0.38L45.62 0.38L45.62 1.12L45.38 1.38L47.38 1.88L48.38 2.62L48.12 3.12L48.12 4.38L47.88 4.62L47.38 9.12L46.88 10.62L38.38 10.62L38.12 9.88L38.38 9.62L38.38 8.38L38.62 8.12L38.62 6.62L38.88 6.38L39.38 2.62L40.88 1.62L42.12 1.38L42.38 0.38ZM13.88 0.62L12.12 0.38L11.88 0.12L10.38 0.12L10.12 0.38L8.62 0.38L6.38 1.12L5.12 1.88L2.88 4.12L1.62 6.38L1.62 6.88L0.88 8.38L0.88 9.12L0.38 10.38L0.38 11.88L0.12 12.12L0.12 17.38L0.38 17.62L0.62 19.38L1.62 21.12L2.38 21.88L4.12 22.88L4.88 22.88L5.12 23.12L8.88 22.88L11.38 21.88L14.38 19.88L14.38 19.38L13.88 18.62L13.38 18.38L12.62 19.12L9.62 20.88L7.88 21.12L7.62 21.38L6.12 21.38L4.38 20.38L3.62 19.38L3.12 17.62L3.12 12.62L3.38 12.38L3.38 10.88L3.62 10.62L3.62 9.62L4.38 7.12L5.62 4.62L7.88 2.38L9.12 1.88L10.88 1.62L12.38 2.12L13.38 3.38L13.38 4.62L12.62 5.62L12.88 6.12L13.88 6.88L14.88 6.88L15.38 6.62L16.12 5.62L16.38 3.12L15.88 2.12L14.88 1.12Z" fill="#000" stroke="#000" stroke-width="0.20" vector-effect="non-scaling-stroke"/>
<path transform="translate(57.45 238.99) rotate(29.035) scale(0.9324 1.0300)" d="M33.12 15.88L32.62 15.62L30.12 16.88L30.88 18.12L31.88 20.88L32.12 23.62L32.38 23.88L31.88 26.38L30.88 28.12L30.12 28.88L28.38 29.88L26.12 30.12L25.88 30.38L22.62 30.12L20.62 29.38L18.88 27.62L18.38 26.38L18.38 24.38L19.38 20.88L16.88 19.88L15.88 22.38L15.62 25.12L15.38 25.38L15.88 28.62L16.62 29.88L18.38 31.62L21.12 32.88L22.12 32.88L22.38 33.12L27.38 33.12L29.88 32.38L31.62 31.38L33.88 28.88L35.12 25.38L35.12 21.88L34.88 21.62L34.88 20.62ZM24.62 9.62L23.62 10.88L23.62 11.88L23.88 12.38L24.62 12.88L25.88 12.88L26.38 12.62L26.88 11.88L26.88 10.62L26.62 10.12L25.88 9.62ZM54.88 6.12L53.88 5.88L52.62 6.62L52.38 8.12L53.12 9.12L54.62 9.12L55.12 8.88L55.62 8.12L55.62 7.12ZM48.38 6.12L47.62 6.88L47.62 8.12L47.88 8.62L48.62 9.12L49.88 9.12L50.38 8.88L50.88 8.12L50.62 6.62L49.38 5.88ZM58.88 3.12L58.88 5.12L59.12 5.38L59.12 14.12L59.38 14.38L59.38 22.88L59.62 23.12L59.62 25.88L62.38 25.88L61.88 3.12ZM39.12 3.12L39.38 3.38L39.88 21.62L40.62 24.12L41.62 25.12L42.62 25.62L45.12 25.88L45.38 26.12L49.88 25.88L52.38 24.88L53.62 23.88L54.38 22.38L54.38 21.12L54.62 20.88L54.38 17.12L53.12 12.88L52.62 12.62L50.12 13.62L51.12 16.38L51.62 19.38L51.88 19.62L51.88 20.62L51.38 22.12L50.38 22.88L49.38 22.88L49.12 23.12L45.12 23.12L43.88 22.62L43.38 22.12L42.88 20.88L42.12 3.12ZM68.12 0.12L69.62 2.38L71.38 5.88L71.62 7.12L72.38 8.62L72.38 9.38L73.12 11.62L73.38 14.38L73.62 14.62L73.62 20.88L73.38 21.12L73.12 24.12L71.38 29.62L69.88 32.62L68.12 35.12L71.38 35.12L73.38 32.38L74.88 29.38L75.88 26.62L76.38 23.62L76.62 23.38L76.62 21.88L76.88 21.62L76.88 18.62L77.12 18.38L77.12 17.38L76.88 17.12L76.88 13.88L76.62 13.62L76.62 12.12L76.38 11.88L76.38 10.88L75.88 9.88L75.62 8.12L73.38 3.12L71.12 0.12ZM5.88 0.12L2.88 4.62L1.12 9.12L0.62 12.12L0.38 12.38L0.38 13.88L0.12 14.12L0.12 21.62L0.38 21.88L0.38 23.38L0.62 23.62L0.62 24.62L1.38 26.62L1.38 27.38L1.88 28.12L2.38 29.88L4.12 33.12L5.88 35.12L8.88 35.12L7.12 32.62L5.38 28.88L3.88 23.88L3.62 20.88L3.38 20.62L3.38 15.12L3.62 14.88L3.62 12.88L3.88 12.62L3.88 11.62L4.12 11.38L4.62 8.62L5.38 7.12L5.62 5.88L7.12 2.88L8.88 0.38L8.88 0.12Z" fill="#000" stroke="#000" stroke-width="0.12" vector-effect="non-scaling-stroke"/>
<path transform="translate(710.35 243.84) rotate(-28.072) scale(0.9465 1.0000)" d="M89.88 18.62L89.88 19.38L91.12 19.38L91.62 19.88L91.62 21.12L91.38 21.38L91.12 24.38L90.88 24.62L90.88 25.88L90.62 26.12L90.12 29.88L92.12 29.88L92.62 25.62L92.88 25.38L92.88 24.38L93.38 22.88L94.38 20.88L96.38 19.12L97.38 19.12L98.38 20.38L98.38 21.88L98.12 22.12L97.12 29.38L97.38 29.88L98.62 30.12L98.88 29.88L99.62 29.88L101.12 28.88L101.12 28.12L100.12 28.62L99.62 28.62L99.12 28.12L99.38 26.12L99.62 25.88L99.62 24.62L100.12 23.12L100.12 21.62L100.38 21.38L100.38 19.88L100.12 19.12L98.88 18.12L96.38 18.12L95.88 18.38L93.88 20.62L93.62 20.38L93.62 18.12L91.62 18.12ZM72.88 16.38L70.62 16.38L69.88 16.62L68.88 17.62L68.62 18.38L69.12 20.12L68.88 20.62L67.88 20.62L67.38 20.12L67.38 18.88L66.62 16.38L64.38 16.88L64.88 18.62L64.88 19.62L65.12 19.88L65.38 22.62L65.62 22.88L66.38 30.88L68.38 30.88L68.38 26.38L68.12 26.12L67.88 22.88L68.12 22.62L72.12 22.62L74.12 21.88L73.62 19.88L72.62 20.38L71.62 20.38L70.88 19.62L70.88 18.88L71.38 18.38L72.88 18.38L72.88 17.62L73.12 17.38L73.12 16.62ZM35.88 16.62L34.62 16.62L34.38 16.38L33.88 18.12L33.12 18.88L32.38 18.88L32.12 19.12L30.12 18.88L29.62 18.38L29.12 16.38L26.88 16.88L27.38 19.88L27.62 20.12L27.62 21.38L27.88 21.62L27.88 23.12L28.12 23.38L28.38 27.38L28.62 27.62L28.62 30.88L30.88 30.88L30.88 26.88L30.62 26.62L30.62 24.12L30.38 23.88L30.12 21.38L30.38 21.12L32.12 21.38L34.62 20.62L35.38 19.88L36.12 18.12L36.12 17.12L36.38 16.88ZM43.12 1.38L42.88 1.62L42.88 2.38L43.12 2.62L44.12 2.62L45.62 3.38L45.62 4.88L45.12 6.62L45.12 8.12L44.88 8.38L44.88 9.62L44.38 11.38L44.38 12.88L44.12 13.12L44.12 14.38L43.88 14.62L42.88 21.88L42.12 22.38L39.88 22.88L39.88 23.88L48.38 23.88L48.38 22.88L46.88 22.62L45.62 21.88L46.62 14.62L47.12 13.12L55.62 13.12L55.88 13.88L55.62 14.12L55.62 15.38L55.12 17.12L54.62 21.62L53.88 22.38L51.62 22.88L51.62 23.88L60.12 23.88L60.38 22.88L58.62 22.62L57.38 21.88L57.38 20.38L57.62 20.12L57.62 18.62L57.88 18.38L58.38 13.88L58.62 13.62L58.62 12.38L59.12 10.62L59.12 9.12L59.38 8.88L59.38 7.62L59.88 5.88L59.88 4.38L60.62 3.12L62.88 2.38L62.88 1.38L54.62 1.38L54.62 2.38L54.88 2.62L55.88 2.62L57.38 3.38L56.62 8.88L56.38 9.12L56.38 10.38L55.88 11.62L47.38 11.62L47.12 11.12L47.38 10.88L48.38 3.62L49.38 2.88L50.88 2.62L51.38 2.12L51.38 1.38ZM23.12 1.62L22.38 1.62L21.12 1.12L19.38 1.12L19.12 1.38L17.62 1.38L15.38 2.12L14.12 2.88L12.38 4.62L10.88 6.88L9.38 11.88L9.38 13.38L9.12 13.62L9.12 18.12L9.38 18.38L9.62 20.12L10.38 21.62L12.62 23.62L14.12 24.12L17.88 23.88L20.88 22.62L23.62 20.62L22.62 19.38L20.62 20.88L18.12 22.12L15.12 22.38L14.38 22.12L12.88 20.62L12.12 18.12L12.38 12.12L12.62 11.88L12.88 9.88L14.38 6.12L14.88 5.38L17.38 3.12L19.88 2.62L21.38 3.12L22.38 4.12L22.38 5.62L21.88 6.38L21.88 7.12L22.88 7.88L24.38 7.62L25.38 6.12L25.38 3.88L25.12 3.38ZM80.62 0.12L79.12 0.88L79.12 1.88L80.62 4.62L81.88 8.12L81.88 9.12L82.38 10.62L82.38 12.38L82.62 12.62L82.62 16.62L82.38 16.88L82.38 18.62L82.12 18.88L81.88 21.12L80.88 24.12L79.12 27.62L79.12 28.38L80.12 29.12L80.88 28.88L83.12 24.62L84.38 20.62L84.62 17.38L84.88 17.12L84.88 12.12L84.62 11.88L84.38 8.88L83.38 5.38L81.62 1.62ZM4.38 0.12L2.12 4.12L1.12 6.88L0.62 9.88L0.38 10.12L0.38 11.88L0.12 12.12L0.12 17.12L0.38 17.38L0.62 20.62L1.88 24.62L3.62 28.12L4.38 29.12L4.88 29.12L5.88 28.38L5.88 27.62L3.62 22.88L3.62 22.12L2.88 20.12L2.62 17.12L2.38 16.88L2.38 12.62L2.62 12.38L2.62 10.62L2.88 10.38L3.12 8.12L4.38 4.62L5.88 1.88L5.88 0.88Z" fill="#000" stroke="#000" stroke-width="0.20" vector-effect="non-scaling-stroke"/>
<path transform="translate(720.56 285.60) rotate(-29.029) scale(0.9979 1.0300)" d="M102.88 32.88L101.88 33.38L101.62 33.88L101.62 35.12L101.88 35.62L102.38 35.88L103.62 35.88L104.38 35.38L104.62 34.38L103.88 33.12ZM104.12 29.62L103.88 30.12L103.88 31.38L104.12 31.88L105.12 32.38L106.12 32.12L106.88 31.12L106.62 29.88L106.12 29.38L104.62 29.38ZM99.62 29.62L99.38 30.12L99.38 31.38L99.62 31.88L100.62 32.38L101.62 32.12L102.38 31.12L102.12 29.88L101.62 29.38L100.12 29.38ZM45.12 12.88L44.62 12.62L42.12 13.62L43.12 16.38L43.62 19.38L43.88 19.62L43.62 21.62L43.38 22.12L42.38 22.88L41.38 22.88L41.12 23.12L37.62 23.12L37.38 22.88L36.62 22.88L36.12 22.62L34.88 21.12L33.88 16.88L33.62 16.62L32.88 16.62L32.62 16.88L30.88 17.12L30.88 17.88L32.12 22.12L32.12 24.38L32.38 24.62L32.12 24.88L32.12 26.38L31.38 27.88L30.12 29.12L27.88 30.12L26.88 30.12L26.62 30.38L23.38 30.38L23.12 30.12L21.38 29.88L20.12 29.12L19.12 28.12L18.38 26.38L18.38 24.38L19.38 20.88L16.88 19.88L16.12 21.62L16.12 22.38L15.62 23.62L15.62 25.38L15.38 25.62L16.12 29.12L17.12 30.62L19.62 32.38L21.12 32.88L22.12 32.88L22.38 33.12L24.12 33.12L24.38 33.38L27.62 33.12L27.88 32.88L29.62 32.62L31.62 31.62L33.62 29.62L34.62 27.62L34.88 25.88L35.38 25.12L36.88 25.88L40.12 26.12L40.38 25.88L42.88 25.62L44.38 24.88L45.62 23.88L46.38 22.38L46.38 21.12L46.62 20.88L46.38 17.12ZM24.62 9.62L23.62 10.88L23.62 11.88L23.88 12.38L24.62 12.88L25.88 12.88L26.38 12.62L26.88 11.88L26.88 10.62L26.62 10.12L25.88 9.62ZM46.88 6.12L45.88 5.88L44.62 6.62L44.38 8.12L45.12 9.12L46.62 9.12L47.12 8.88L47.62 8.12L47.62 7.12ZM40.38 6.12L39.62 6.88L39.62 8.12L39.88 8.62L40.62 9.12L41.88 9.12L42.38 8.88L42.88 8.12L42.62 6.62L41.38 5.88ZM105.62 12.62L102.62 13.62L103.62 16.12L104.12 19.12L104.38 19.38L104.12 21.88L103.38 22.62L101.62 23.12L98.62 23.12L97.12 22.62L96.12 21.38L95.88 19.12L95.62 18.88L95.38 4.12L95.12 3.88L95.12 3.12L92.38 3.12L92.62 17.62L92.88 17.88L92.88 21.12L92.38 22.38L90.62 23.12L88.12 23.12L87.88 22.88L85.88 22.62L81.12 20.88L80.62 23.88L83.12 24.62L84.38 25.38L85.12 26.38L84.62 27.88L83.12 29.12L80.12 30.12L78.88 30.12L78.62 30.38L74.38 30.38L74.12 30.12L73.12 30.12L70.88 29.12L69.62 27.88L68.88 26.12L68.88 24.38L69.88 20.88L67.38 19.88L66.38 22.38L66.12 25.12L65.88 25.38L66.12 27.62L66.62 29.12L68.62 31.38L70.38 32.38L72.88 33.12L77.12 33.38L77.38 33.12L80.88 32.88L85.12 31.12L87.12 29.38L87.88 27.38L87.88 26.62L87.62 26.38L87.88 26.12L89.88 26.12L90.12 25.88L92.62 25.62L93.88 24.88L94.88 23.88L96.12 25.38L98.62 26.12L100.88 26.12L101.12 25.88L102.38 25.88L104.12 25.38L106.12 23.88L107.12 21.62L107.12 18.38L106.88 18.12L106.88 16.88ZM51.12 3.12L51.12 11.88L51.38 12.12L51.62 25.88L54.62 25.88L54.62 24.88L54.38 24.62L54.38 15.88L54.12 15.62L53.88 3.12ZM112.62 0.12L114.38 2.62L115.88 5.62L117.12 9.12L117.62 12.12L117.88 12.38L117.88 13.62L118.12 13.88L118.38 18.88L118.12 19.12L118.12 21.88L117.88 22.12L117.62 24.62L115.88 29.88L114.38 32.88L112.88 34.88L112.88 35.12L115.88 35.12L118.12 32.12L120.38 27.12L120.38 26.38L121.12 24.12L121.38 21.12L121.62 20.88L121.62 14.88L121.38 14.62L121.12 11.38L120.62 10.38L120.38 8.62L118.12 3.38L116.62 1.12L115.62 0.12ZM5.88 0.12L2.88 4.62L1.12 9.12L0.62 12.12L0.38 12.38L0.38 13.88L0.12 14.12L0.12 21.62L0.38 21.88L0.38 23.38L0.62 23.62L0.62 24.62L1.38 26.62L1.38 27.38L1.88 28.12L2.38 29.88L4.12 33.12L5.88 35.12L8.88 35.12L7.12 32.62L5.38 28.88L3.88 23.88L3.62 20.88L3.38 20.62L3.38 15.12L3.62 14.88L3.62 12.88L3.88 12.62L3.88 11.62L4.12 11.38L4.62 8.62L5.38 7.12L5.62 5.88L7.12 2.88L8.88 0.38L8.88 0.12Z" fill="#000" stroke="#000" stroke-width="0.12" vector-effect="non-scaling-stroke"/>
<path transform="translate(129.50 715.87) rotate(-53.719) scale(0.9694 1.0000)" d="M62.88 15.62L62.12 15.38L59.62 15.38L57.62 16.38L56.88 17.38L56.62 18.12L56.62 20.62L57.12 21.62L58.38 22.88L59.62 23.62L59.12 23.88L58.12 25.12L55.88 28.88L56.12 29.38L57.62 30.12L58.12 30.12L59.12 28.12L61.38 25.12L64.38 22.62L63.38 20.62L61.62 21.88L60.88 21.88L58.88 20.12L58.88 18.88L59.62 17.88L60.12 17.62L62.62 17.62ZM26.88 15.62L25.62 15.62L25.38 15.38L24.88 17.12L24.12 17.88L23.38 17.88L23.12 18.12L20.88 17.88L20.38 17.12L20.12 15.38L17.88 15.88L18.38 19.12L18.62 19.38L18.62 20.62L18.88 20.88L18.88 22.62L19.12 22.88L19.12 24.62L19.38 24.88L19.38 27.12L19.62 27.38L19.62 29.88L21.88 29.88L21.88 26.62L21.62 26.38L21.62 23.88L21.38 23.62L21.12 20.38L21.38 20.12L22.12 20.38L24.38 20.12L25.88 19.38L26.88 17.88L26.88 17.12L27.12 16.88L27.12 15.88ZM33.88 0.38L33.88 1.38L34.12 1.62L35.12 1.62L36.62 2.38L36.38 5.12L36.12 5.38L36.12 6.62L35.62 8.38L35.62 9.88L35.38 10.12L35.38 11.38L34.88 13.12L34.88 14.62L34.62 14.88L33.88 20.62L33.12 21.38L30.88 21.88L30.88 22.62L30.62 22.88L39.38 22.88L39.38 21.88L37.88 21.62L36.62 20.88L36.62 19.38L36.88 19.12L36.88 17.88L37.38 16.12L37.62 13.12L38.12 12.12L46.38 12.12L46.62 12.38L46.62 13.88L46.38 14.12L46.38 15.62L46.12 15.88L46.12 17.12L45.62 18.88L45.62 20.38L45.12 21.12L43.38 21.88L42.62 21.88L42.62 22.88L51.12 22.88L51.12 21.88L48.88 21.38L48.12 20.88L48.12 20.38L48.38 20.12L48.38 18.88L48.88 17.12L48.88 15.62L49.12 15.38L49.12 14.12L49.62 12.38L49.62 10.88L49.88 10.62L49.88 9.38L50.38 7.62L50.88 3.12L51.38 2.12L53.88 1.38L53.88 0.38L45.62 0.38L45.62 1.12L45.38 1.38L47.38 1.88L48.38 2.62L48.12 3.12L48.12 4.38L47.88 4.62L47.38 9.12L46.88 10.62L38.38 10.62L38.12 9.88L38.38 9.62L38.38 8.38L38.62 8.12L38.62 6.62L38.88 6.38L39.38 2.62L40.88 1.62L42.12 1.38L42.38 0.38ZM83.62 0.62L81.62 0.38L81.38 0.12L79.88 0.12L79.62 0.38L78.12 0.38L76.62 0.88L74.88 1.88L73.12 3.38L70.88 6.88L69.62 11.12L69.38 16.12L69.62 16.38L69.62 17.62L70.38 19.88L72.38 22.12L73.38 22.62L75.12 22.88L75.38 23.12L78.12 23.12L80.62 22.38L82.38 21.38L84.88 18.88L86.38 16.12L87.12 13.88L87.38 11.38L87.62 11.12L87.62 6.38L87.38 6.12L87.38 5.12L86.88 3.62L85.88 2.12ZM81.12 1.62L81.88 1.88L83.38 3.12L84.38 5.38L84.38 6.38L84.62 6.62L84.62 10.38L84.38 10.62L84.38 12.38L84.12 12.62L83.88 14.62L82.38 18.12L79.88 20.88L78.38 21.62L75.62 21.62L74.62 21.12L73.62 20.12L72.62 17.62L72.62 11.88L72.88 11.62L72.88 10.38L73.12 10.12L73.38 8.38L74.62 5.38L76.62 2.88L78.12 1.88ZM13.88 0.62L12.12 0.38L11.88 0.12L10.38 0.12L10.12 0.38L8.62 0.38L6.38 1.12L5.12 1.88L2.88 4.12L1.62 6.38L1.62 6.88L0.88 8.38L0.88 9.12L0.38 10.38L0.38 11.88L0.12 12.12L0.12 17.38L0.38 17.62L0.62 19.38L1.62 21.12L2.38 21.88L4.12 22.88L4.88 22.88L5.12 23.12L8.88 22.88L11.38 21.88L14.38 19.88L14.38 19.38L13.88 18.62L13.38 18.38L12.62 19.12L9.62 20.88L7.88 21.12L7.62 21.38L6.12 21.38L4.38 20.38L3.62 19.38L3.12 17.62L3.12 12.62L3.38 12.38L3.38 10.88L3.62 10.62L3.62 9.62L4.38 7.12L5.62 4.62L7.88 2.38L9.12 1.88L10.88 1.62L12.38 2.12L13.38 3.38L13.38 4.62L12.62 5.62L12.88 6.12L13.88 6.88L14.88 6.88L15.38 6.62L16.12 5.62L16.38 3.12L15.88 2.12L14.88 1.12Z" fill="#000" stroke="#000" stroke-width="0.20" vector-effect="non-scaling-stroke"/>
<path transform="translate(157.72 744.79) rotate(-54.121) scale(0.9427 1.0300)" d="M58.38 12.62L55.62 13.62L56.62 16.38L57.38 20.62L56.88 22.12L56.38 22.62L54.88 23.12L50.38 23.12L50.12 22.88L49.88 19.62L48.88 17.12L47.62 15.62L46.12 14.88L43.38 14.88L41.62 15.88L40.88 16.62L39.62 18.88L39.12 20.62L39.12 22.62L39.62 24.12L40.62 25.12L41.62 25.62L43.88 25.88L44.12 26.12L46.12 26.12L46.38 26.62L45.38 27.88L42.88 29.38L38.38 30.38L38.62 30.62L38.62 31.62L39.12 33.12L40.62 33.12L40.88 32.88L42.62 32.62L45.62 31.38L48.38 28.88L49.38 27.12L49.38 26.62L49.88 26.12L55.62 25.88L57.38 25.38L59.12 23.88L59.88 22.38L60.12 18.88L59.88 18.62L59.88 17.38L59.62 17.12L59.38 15.12ZM43.62 17.88L44.88 17.62L46.62 19.12L47.12 20.38L47.12 21.88L47.38 22.12L47.38 22.88L47.12 23.12L43.88 23.12L42.62 22.62L42.12 22.12L42.12 19.88L42.62 18.88ZM77.88 6.12L77.12 7.12L77.38 8.62L78.12 9.12L79.62 9.12L80.38 8.12L80.12 6.62L78.88 5.88ZM73.12 6.12L72.38 7.12L72.62 8.38L73.38 9.12L74.62 9.12L75.12 8.88L75.62 8.12L75.62 6.88L74.38 5.88ZM56.38 5.88L55.88 6.12L55.38 6.88L55.38 8.38L56.38 9.12L57.62 9.12L58.12 8.88L58.62 8.12L58.62 7.12L57.62 5.88ZM83.88 3.12L84.38 25.88L87.38 25.88L87.38 22.62L87.12 22.38L87.12 13.62L86.88 13.38L86.88 4.88L86.62 4.62L86.62 3.12ZM64.12 3.12L64.62 21.12L64.88 21.38L64.88 22.62L65.62 24.38L66.88 25.38L68.38 25.88L70.12 25.88L70.38 26.12L74.88 25.88L77.38 24.88L78.62 23.62L79.38 21.88L79.38 17.88L77.88 12.62L74.88 13.62L75.62 15.12L76.38 18.62L76.62 18.88L76.62 21.38L75.62 22.62L73.88 23.12L69.88 23.12L68.38 22.38L67.88 21.62L67.88 20.62L67.62 20.38L67.12 3.88L66.88 3.12ZM34.38 3.12L31.62 3.12L31.88 15.88L32.12 16.12L32.12 23.62L31.88 23.88L31.62 26.12L30.62 28.12L28.88 29.62L26.88 30.38L22.88 30.38L20.88 29.62L19.38 28.38L18.38 26.38L18.38 24.38L19.38 20.88L16.88 19.88L15.88 22.38L15.38 25.88L15.62 26.12L15.62 27.62L16.12 29.12L18.38 31.62L21.12 32.88L22.12 32.88L22.38 33.12L23.88 33.12L24.12 33.38L27.62 33.12L29.12 32.62L31.38 31.38L33.12 29.38L34.62 25.88L34.88 21.62L35.12 21.38L35.12 19.62L34.88 19.38L34.88 12.12L34.62 11.88L34.62 4.38L34.38 4.12ZM92.88 0.12L94.88 3.12L96.38 6.38L96.62 7.62L97.12 8.38L97.12 9.12L97.88 11.38L97.88 12.38L98.12 12.62L98.12 14.12L98.38 14.38L98.38 21.38L98.12 21.62L97.88 24.38L97.38 25.38L97.12 27.12L96.62 27.88L96.38 29.12L94.38 33.12L92.88 35.12L96.12 35.12L98.62 31.62L100.62 26.88L100.62 26.12L101.38 23.88L101.38 22.38L101.62 22.12L101.88 16.12L101.62 15.88L101.62 13.62L101.38 13.38L101.12 10.62L100.62 9.62L100.62 8.88L99.88 6.62L98.62 3.88L95.88 0.12ZM5.88 0.12L2.88 4.62L1.12 9.12L0.62 12.12L0.38 12.38L0.38 13.88L0.12 14.12L0.12 21.62L0.38 21.88L0.38 23.38L0.62 23.62L0.62 24.62L1.38 26.62L1.38 27.38L1.88 28.12L2.38 29.88L4.12 33.12L5.88 35.12L8.88 35.12L7.12 32.62L5.38 28.88L3.88 23.88L3.62 20.88L3.38 20.62L3.38 15.12L3.62 14.88L3.62 12.88L3.88 12.62L3.88 11.62L4.12 11.38L4.62 8.62L5.38 7.12L5.62 5.88L7.12 2.88L8.88 0.38L8.88 0.12Z" fill="#000" stroke="#000" stroke-width="0.12" vector-effect="non-scaling-stroke"/>
<path transform="translate(665.29 659.09) rotate(52.642) scale(0.9689 1.0000)" d="M99.12 15.62L97.88 15.62L97.62 15.38L97.12 17.12L96.38 17.88L95.62 17.88L95.38 18.12L93.38 17.88L92.88 17.38L92.38 15.38L90.12 15.88L90.62 18.88L90.88 19.12L90.88 20.38L91.12 20.62L91.12 22.12L91.38 22.38L91.62 26.38L91.88 26.62L91.88 29.88L94.12 29.88L94.12 25.88L93.88 25.62L93.88 23.12L93.62 22.88L93.38 20.38L93.62 20.12L95.38 20.38L97.88 19.62L98.62 18.88L99.38 17.12L99.38 16.12L99.62 15.88ZM62.88 15.62L62.12 15.38L59.62 15.38L57.62 16.38L56.88 17.38L56.62 18.12L56.62 20.62L57.12 21.62L58.38 22.88L59.62 23.62L59.12 23.88L58.12 25.12L55.88 28.88L56.12 29.38L57.62 30.12L58.12 30.12L59.12 28.12L61.38 25.12L64.38 22.62L63.38 20.62L61.62 21.88L60.88 21.88L58.88 20.12L58.88 18.88L59.62 17.88L60.12 17.62L62.62 17.62ZM26.88 15.62L25.62 15.62L25.38 15.38L24.88 17.12L24.12 17.88L23.38 17.88L23.12 18.12L20.88 17.88L20.38 17.12L20.12 15.38L17.88 15.88L18.38 19.12L18.62 19.38L18.62 20.62L18.88 20.88L18.88 22.62L19.12 22.88L19.12 24.62L19.38 24.88L19.38 27.12L19.62 27.38L19.62 29.88L21.88 29.88L21.88 26.62L21.62 26.38L21.62 23.88L21.38 23.62L21.12 20.38L21.38 20.12L22.12 20.38L24.38 20.12L25.88 19.38L26.88 17.88L26.88 17.12L27.12 16.88L27.12 15.88ZM33.88 0.38L33.88 1.38L34.12 1.62L35.12 1.62L36.62 2.38L36.38 5.12L36.12 5.38L36.12 6.62L35.62 8.38L35.62 9.88L35.38 10.12L35.38 11.38L34.88 13.12L34.88 14.62L34.62 14.88L33.88 20.62L33.12 21.38L30.88 21.88L30.88 22.62L30.62 22.88L39.38 22.88L39.38 21.88L37.88 21.62L36.62 20.88L36.62 19.38L36.88 19.12L36.88 17.88L37.38 16.12L37.62 13.12L38.12 12.12L46.38 12.12L46.62 12.38L46.62 13.88L46.38 14.12L46.38 15.62L46.12 15.88L46.12 17.12L45.62 18.88L45.62 20.38L45.12 21.12L43.38 21.88L42.62 21.88L42.62 22.88L51.12 22.88L51.12 21.88L48.88 21.38L48.12 20.88L48.12 20.38L48.38 20.12L48.38 18.88L48.88 17.12L48.88 15.62L49.12 15.38L49.12 14.12L49.62 12.38L49.62 10.88L49.88 10.62L49.88 9.38L50.38 7.62L50.88 3.12L51.38 2.12L53.88 1.38L53.88 0.38L45.62 0.38L45.62 1.12L45.38 1.38L47.38 1.88L48.38 2.62L48.12 3.12L48.12 4.38L47.88 4.62L47.38 9.12L46.88 10.62L38.38 10.62L38.12 9.88L38.38 9.62L38.38 8.38L38.62 8.12L38.62 6.62L38.88 6.38L39.38 2.62L40.88 1.62L42.12 1.38L42.38 0.38ZM83.62 0.62L81.62 0.38L81.38 0.12L79.88 0.12L79.62 0.38L78.12 0.38L76.62 0.88L74.88 1.88L73.12 3.38L70.88 6.88L69.62 11.12L69.38 16.12L69.62 16.38L69.62 17.62L70.38 19.88L72.38 22.12L73.38 22.62L75.12 22.88L75.38 23.12L78.12 23.12L80.62 22.38L82.38 21.38L84.88 18.88L86.38 16.12L87.12 13.88L87.38 11.38L87.62 11.12L87.62 6.38L87.38 6.12L87.38 5.12L86.88 3.62L85.88 2.12ZM81.12 1.62L81.88 1.88L83.38 3.12L84.38 5.38L84.38 6.38L84.62 6.62L84.62 10.38L84.38 10.62L84.38 12.38L84.12 12.62L83.88 14.62L82.38 18.12L79.88 20.88L78.38 21.62L75.62 21.62L74.62 21.12L73.62 20.12L72.62 17.62L72.62 11.88L72.88 11.62L72.88 10.38L73.12 10.12L73.38 8.38L74.62 5.38L76.62 2.88L78.12 1.88ZM13.88 0.62L12.12 0.38L11.88 0.12L10.38 0.12L10.12 0.38L8.62 0.38L6.38 1.12L5.12 1.88L2.88 4.12L1.62 6.38L1.62 6.88L0.88 8.38L0.88 9.12L0.38 10.38L0.38 11.88L0.12 12.12L0.12 17.38L0.38 17.62L0.62 19.38L1.62 21.12L2.38 21.88L4.12 22.88L4.88 22.88L5.12 23.12L8.88 22.88L11.38 21.88L14.38 19.88L14.38 19.38L13.88 18.62L13.38 18.38L12.62 19.12L9.62 20.88L7.88 21.12L7.62 21.38L6.12 21.38L4.38 20.38L3.62 19.38L3.12 17.62L3.12 12.62L3.38 12.38L3.38 10.88L3.62 10.62L3.62 9.62L4.38 7.12L5.62 4.62L7.88 2.38L9.12 1.88L10.88 1.62L12.38 2.12L13.38 3.38L13.38 4.62L12.62 5.62L12.88 6.12L13.88 6.88L14.88 6.88L15.38 6.62L16.12 5.62L16.38 3.12L15.88 2.12L14.88 1.12Z" fill="#000" stroke="#000" stroke-width="0.20" vector-effect="non-scaling-stroke"/>
<path transform="translate(606.76 645.81) rotate(52.565) scale(1.0064 1.0300)" d="M154.38 30.12L153.88 31.12L154.12 32.38L155.38 33.12L156.38 32.88L157.12 31.88L156.88 30.38L156.12 29.88L154.88 29.88ZM150.12 29.88L149.38 30.62L149.12 31.88L149.88 32.88L151.12 33.12L152.38 32.12L152.38 30.88L151.62 29.88ZM76.12 30.12L75.62 31.12L75.88 32.38L77.12 33.12L78.12 32.88L78.88 31.88L78.62 30.38L77.88 29.88L76.62 29.88ZM71.88 29.88L71.12 30.62L70.88 31.88L71.62 32.88L72.88 33.12L74.12 32.12L74.12 30.88L73.38 29.88ZM123.38 10.12L122.88 10.38L122.38 11.12L122.38 12.62L123.38 13.38L124.62 13.38L125.12 13.12L125.62 12.38L125.62 11.38L124.62 10.12ZM167.88 6.62L166.88 6.38L165.62 7.12L165.38 8.62L166.12 9.62L167.62 9.62L168.12 9.38L168.62 8.62L168.62 7.62ZM161.38 6.62L160.62 7.38L160.62 8.62L160.88 9.12L161.62 9.62L162.88 9.62L163.38 9.38L163.88 8.62L163.62 7.12L162.38 6.38ZM172.12 3.62L172.12 12.38L172.38 12.62L172.62 26.38L175.62 26.38L175.62 25.38L175.38 25.12L175.38 16.38L175.12 16.12L174.88 3.62ZM166.88 15.38L166.12 13.12L163.12 14.12L164.12 16.62L164.62 19.62L164.88 19.88L164.62 22.38L163.38 23.38L162.38 23.38L162.12 23.62L157.88 23.62L155.62 22.88L155.12 22.12L155.12 19.62L155.38 19.38L155.62 17.38L154.38 17.38L154.12 17.12L152.88 17.12L152.62 19.12L151.88 21.62L150.62 23.12L149.12 23.62L146.62 23.62L145.88 23.38L144.62 22.38L144.12 21.38L144.12 20.12L143.88 19.88L143.88 14.12L143.62 13.88L143.62 6.62L143.38 6.38L143.38 3.62L140.38 3.62L140.38 5.12L140.62 5.38L140.62 12.38L140.88 12.62L140.88 22.38L139.88 23.38L139.12 23.38L138.88 23.62L136.38 23.62L134.88 23.12L133.62 21.62L132.62 17.38L132.38 17.12L131.62 17.12L131.38 17.38L129.62 17.62L129.88 19.38L130.62 21.38L130.88 24.88L131.12 25.12L130.88 25.38L130.88 26.88L130.12 28.38L128.88 29.62L126.62 30.62L125.62 30.62L125.38 30.88L122.12 30.88L121.88 30.62L120.12 30.38L118.88 29.62L117.88 28.62L117.12 26.88L117.12 24.88L118.12 21.38L115.62 20.38L114.88 22.12L114.88 22.88L114.38 24.12L114.38 25.88L114.12 26.12L114.62 29.12L115.88 31.12L117.88 32.62L119.88 33.38L123.88 33.88L124.12 33.62L127.62 33.38L130.38 32.12L132.38 30.12L133.38 28.12L133.62 26.38L134.12 25.62L135.62 26.38L138.12 26.62L138.38 26.38L140.88 26.12L142.12 25.38L142.88 24.38L143.62 25.38L145.38 26.38L148.38 26.62L148.62 26.38L150.38 26.38L151.88 25.88L153.62 24.38L154.62 25.62L156.38 26.38L161.38 26.62L161.62 26.38L163.88 26.12L165.12 25.62L166.62 24.38L167.62 22.12L167.62 18.88L167.38 18.62L167.38 17.38L167.12 17.12ZM104.38 4.88L103.88 4.12L103.38 4.12L96.38 7.62L93.62 9.38L92.62 10.38L92.38 12.88L95.12 15.12L98.88 18.88L99.88 20.62L99.88 22.12L98.88 23.12L97.12 23.38L96.88 23.62L90.62 23.62L89.38 23.12L88.12 21.38L88.12 20.12L87.88 19.88L87.88 14.12L87.62 13.88L87.62 6.62L87.38 6.38L87.38 3.62L84.38 3.62L84.38 5.12L84.62 5.38L84.62 12.38L84.88 12.62L84.88 22.38L83.88 23.38L83.12 23.38L82.88 23.62L79.62 23.62L77.38 22.88L76.88 22.12L76.88 19.62L77.12 19.38L77.38 17.38L76.12 17.38L75.88 17.12L74.62 17.12L74.38 19.12L73.62 21.62L72.38 23.12L70.88 23.62L68.38 23.62L66.38 22.88L64.88 21.38L63.12 18.38L61.12 15.88L56.88 11.88L57.12 11.38L59.12 10.12L66.38 6.62L66.38 6.12L65.38 4.12L63.12 4.88L58.62 7.12L55.38 9.12L54.12 10.38L53.62 11.88L53.88 12.88L60.12 19.12L61.38 21.38L61.12 22.38L60.38 23.12L58.62 23.62L50.38 23.62L50.12 23.38L50.12 21.38L49.88 21.12L49.62 19.12L48.38 16.88L47.62 16.12L46.12 15.38L43.38 15.38L41.62 16.38L40.88 17.12L39.62 19.38L39.12 21.12L39.38 24.12L40.62 25.62L41.62 26.12L43.88 26.38L44.12 26.62L46.12 26.62L46.38 27.12L45.38 28.38L42.88 29.88L38.38 30.88L38.62 31.12L38.88 33.38L39.12 33.62L40.62 33.62L44.12 32.62L45.62 31.88L48.38 29.38L49.38 27.62L49.38 27.12L49.88 26.62L56.62 26.62L56.88 26.38L59.12 26.38L61.62 25.62L63.38 24.12L64.88 25.38L68.12 26.62L72.12 26.38L73.62 25.88L75.38 24.38L76.38 25.62L78.12 26.38L79.62 26.38L79.88 26.62L82.12 26.62L82.38 26.38L84.88 26.12L86.12 25.38L86.88 24.38L87.62 25.38L89.38 26.38L90.62 26.38L90.88 26.62L95.62 26.62L95.88 26.38L97.88 26.38L100.38 25.62L102.12 24.12L102.62 23.12L102.88 21.38L102.62 21.12L102.38 19.38L100.88 16.88L95.38 11.62L97.62 10.12L104.12 6.88L104.62 6.88L104.88 6.12L104.38 5.38ZM43.62 18.38L44.88 18.12L46.62 19.62L47.12 20.88L47.12 22.38L47.38 22.62L47.38 23.38L47.12 23.62L43.88 23.62L42.62 23.12L42.12 22.62L42.12 20.38L42.62 19.38ZM34.38 3.62L31.62 3.62L31.88 16.38L32.12 16.62L32.12 24.12L31.88 24.38L31.62 26.62L30.62 28.62L28.88 30.12L26.88 30.88L22.88 30.88L20.88 30.12L19.38 28.88L18.38 26.88L18.38 24.88L19.38 21.38L16.88 20.38L15.88 22.88L15.38 26.38L15.62 26.62L15.62 28.12L16.12 29.62L18.38 32.12L21.12 33.38L22.12 33.38L22.38 33.62L23.88 33.62L24.12 33.88L27.62 33.62L29.12 33.12L31.38 31.88L33.12 29.88L34.62 26.38L34.88 22.12L35.12 21.88L35.12 20.12L34.88 19.88L34.88 12.62L34.62 12.38L34.62 4.88L34.38 4.62ZM181.12 0.62L182.62 2.88L184.38 6.38L184.62 7.62L185.38 9.12L185.38 9.88L186.12 12.12L186.38 14.88L186.62 15.12L186.62 21.38L186.38 21.62L186.12 24.62L184.38 30.12L182.88 33.12L181.12 35.62L184.38 35.62L186.38 32.88L187.88 29.88L188.88 27.12L189.38 24.12L189.62 23.88L189.62 22.38L189.88 22.12L189.88 19.12L190.12 18.88L190.12 17.88L189.88 17.62L189.88 14.38L189.62 14.12L189.62 12.62L189.38 12.38L189.38 11.38L188.88 10.38L188.62 8.62L186.38 3.62L184.12 0.62ZM5.88 0.62L2.88 5.12L1.12 9.62L0.62 12.62L0.38 12.88L0.38 14.38L0.12 14.62L0.12 22.12L0.38 22.38L0.38 23.88L0.62 24.12L0.62 25.12L1.38 27.12L1.38 27.88L1.88 28.62L2.38 30.38L4.12 33.62L5.88 35.62L8.88 35.62L7.12 33.12L5.38 29.38L3.88 24.38L3.62 21.38L3.38 21.12L3.38 15.62L3.62 15.38L3.62 13.38L3.88 13.12L3.88 12.12L4.12 11.88L4.62 9.12L5.38 7.62L5.62 6.38L7.12 3.38L8.88 0.88L8.88 0.62ZM102.12 0.12L101.62 0.12L97.62 2.12L97.12 2.62L92.38 5.12L91.38 5.88L92.12 7.12L92.88 7.62L95.88 5.62L101.38 2.88L102.88 1.88Z" fill="#000" stroke="#000" stroke-width="0.12" vector-effect="non-scaling-stroke"/>
<path transform="translate(241.40 306.88) rotate(28.000) scale(1.0075 1.0000)" d="M53.62 7.62L50.38 7.38L48.62 8.12L47.38 9.38L46.88 10.38L46.88 12.62L47.12 13.38L51.38 17.88L51.38 19.62L49.88 20.88L48.12 20.88L47.62 20.62L46.62 19.38L46.62 17.38L45.62 17.38L45.12 20.38L44.88 20.62L45.38 21.38L47.88 22.12L49.62 22.12L51.38 21.62L53.12 20.12L53.88 18.38L53.62 16.38L53.12 15.38L49.38 11.88L49.12 11.38L49.12 9.88L49.38 9.38L50.38 8.62L52.12 8.62L53.12 9.88L52.38 11.12L52.88 11.62L53.88 11.88L54.88 11.38L55.38 10.38L55.12 8.88ZM27.62 7.38L25.62 7.38L23.12 8.12L23.12 9.12L24.62 9.12L25.12 9.62L25.12 11.12L24.88 11.38L24.38 15.88L23.88 17.62L23.88 19.12L23.62 19.38L23.62 21.38L24.62 22.12L25.88 22.12L27.88 21.12L28.62 20.38L28.38 19.62L27.62 20.12L26.38 20.12L26.12 19.88L26.38 16.88L26.62 16.62L26.62 15.38L26.88 15.12L26.88 13.88L27.38 12.12L27.38 10.62L27.88 8.88L27.88 7.62ZM26.62 2.12L25.62 2.88L25.38 3.38L25.38 4.62L25.62 5.12L26.12 5.38L27.38 5.38L28.38 4.12L28.38 2.88L27.62 2.12ZM3.12 1.38L3.12 2.38L5.12 2.88L5.62 3.38L5.38 5.88L5.12 6.12L5.12 7.38L4.88 7.62L4.88 8.88L4.38 10.62L4.38 12.12L4.12 12.38L4.12 13.62L3.88 13.88L3.88 15.12L3.38 16.88L3.12 19.88L2.12 20.62L0.38 20.88L0.38 21.62L0.12 21.88L7.38 21.88L7.62 21.12L7.38 20.88L5.62 20.62L4.62 19.88L4.88 19.62L4.88 18.38L5.12 18.12L5.12 16.88L5.62 15.12L5.62 13.62L5.88 13.38L5.88 12.12L6.12 11.88L6.12 10.62L6.62 8.88L6.62 7.38L7.12 6.12L8.12 7.62L8.12 8.12L10.62 12.88L10.62 13.38L13.12 18.12L13.12 18.62L14.88 21.88L15.88 21.88L16.38 18.12L16.62 17.88L16.62 16.62L16.88 16.38L17.12 13.38L17.38 13.12L17.38 11.88L17.62 11.62L17.62 10.38L17.88 10.12L17.88 8.62L18.12 8.38L18.12 7.12L18.62 5.38L18.62 3.88L19.38 2.88L21.38 2.38L21.62 2.12L21.62 1.38L14.62 1.38L14.38 2.38L16.62 2.88L17.12 3.38L16.88 3.88L16.62 6.88L16.38 7.12L16.38 8.38L16.12 8.62L15.62 13.12L15.38 13.38L15.38 14.88L14.88 16.12L13.88 14.62L13.88 14.12L11.62 9.88L11.62 9.38L7.62 1.38ZM61.88 0.12L61.12 0.62L61.12 1.12L62.88 3.88L63.88 7.12L63.88 12.38L63.62 12.62L63.62 14.12L63.12 15.12L63.12 15.88L62.38 18.12L61.12 20.62L59.12 23.38L56.88 25.62L57.62 26.38L61.12 23.38L63.88 19.62L65.12 17.12L65.88 14.62L65.88 13.62L66.12 13.38L66.38 9.88L66.12 9.62L65.88 6.62L64.38 3.12ZM43.12 0.12L38.62 4.38L36.88 6.88L35.62 9.38L34.88 11.62L34.88 12.88L34.62 13.12L34.38 16.38L34.62 16.62L34.62 18.62L34.88 18.88L35.12 20.62L36.12 22.88L37.88 25.38L39.12 26.38L39.62 25.88L39.62 25.38L38.62 24.12L37.62 22.12L37.12 20.38L37.12 19.38L36.88 19.12L36.88 14.12L37.12 13.88L37.12 12.62L38.12 9.12L39.88 5.62L41.88 2.88L43.88 0.88Z" fill="#2a84a6" stroke="#2a84a6" stroke-width="0.20" vector-effect="non-scaling-stroke"/>
<path transform="translate(226.51 346.57) rotate(28.000) scale(1.0749 1.0000)" d="M49.88 13.38L48.88 13.38L48.62 13.12L48.12 14.88L46.88 15.62L44.38 15.38L44.12 15.12L43.88 13.12L41.62 13.62L42.12 14.88L42.38 17.38L42.62 17.62L42.62 19.12L42.88 19.38L43.12 23.38L43.38 23.62L43.38 26.38L45.38 26.38L45.38 22.62L45.12 22.38L45.12 20.12L44.88 19.88L44.88 18.12L44.62 17.88L44.88 17.62L47.62 17.62L48.62 17.12L49.88 15.62L50.12 13.88L50.38 13.62ZM7.38 2.12L7.38 9.38L7.12 9.62L0.12 9.62L0.12 11.62L7.12 11.62L7.38 11.88L7.38 18.88L9.62 18.88L9.62 11.88L9.88 11.62L16.88 11.62L17.12 11.38L17.12 9.62L9.88 9.62L9.62 9.38L9.62 2.12ZM19.38 0.12L19.12 1.12L20.88 1.38L22.12 2.12L22.12 18.62L21.12 19.38L19.38 19.62L19.12 20.62L27.38 20.62L27.62 20.12L27.38 19.62L25.62 19.38L24.62 18.62L24.62 11.12L24.88 10.88L33.12 10.88L33.38 11.12L33.38 18.62L32.38 19.38L30.62 19.62L30.38 19.88L30.38 20.62L38.62 20.62L38.62 19.62L36.88 19.38L35.88 18.62L35.88 2.12L36.88 1.38L38.38 1.12L38.62 0.88L38.62 0.12L30.38 0.12L30.38 1.12L32.12 1.38L33.38 2.12L33.38 9.12L32.88 9.62L24.88 9.62L24.62 9.38L24.62 2.12L25.62 1.38L27.38 1.12L27.62 0.12Z" fill="#2a84a6" stroke="#2a84a6" stroke-width="0.20" vector-effect="non-scaling-stroke"/>
<path transform="translate(501.18 346.37) rotate(-27.741) scale(1.0028 1.0000)" d="M81.88 11.88L80.88 11.88L80.62 11.62L79.12 11.88L78.12 12.38L76.62 13.88L75.38 17.12L75.38 19.38L76.12 20.88L77.88 21.88L78.62 21.88L78.88 22.12L81.38 22.12L81.62 21.88L82.38 21.88L82.62 22.12L82.12 23.12L80.12 25.12L77.88 26.12L74.62 26.62L75.12 28.88L76.62 28.88L76.88 28.62L78.62 28.38L80.88 27.38L82.88 25.88L84.62 23.12L85.12 21.62L85.12 19.88L85.38 19.62L85.12 16.62L84.62 15.12L83.38 12.88ZM79.38 14.12L80.88 14.12L81.38 14.38L82.62 15.88L83.12 17.62L83.12 19.38L82.12 19.88L79.12 19.88L77.62 18.62L77.62 16.62L77.88 15.88ZM142.88 7.88L141.38 7.38L139.38 7.38L137.38 8.12L136.12 9.38L135.62 10.62L135.62 12.62L136.62 14.38L139.62 17.12L140.12 17.88L140.38 19.12L139.62 20.38L138.62 20.88L137.12 20.88L135.88 20.12L135.38 19.12L135.38 17.38L134.62 17.38L133.88 19.62L133.88 20.62L133.62 20.88L135.38 21.88L138.38 22.12L140.12 21.62L142.12 19.88L142.62 18.88L142.62 16.62L142.12 15.62L138.38 12.12L137.88 11.38L137.88 9.88L139.12 8.62L141.12 8.62L141.88 9.62L141.88 10.12L141.12 11.12L142.12 11.88L143.38 11.62L144.12 10.62L144.12 9.38ZM53.62 7.88L52.38 7.38L50.12 7.38L48.62 7.88L47.12 9.12L46.38 10.88L46.38 12.12L46.88 13.62L47.62 14.62L50.62 17.38L51.12 18.38L51.12 19.38L50.62 20.12L49.62 20.88L47.88 20.88L46.38 19.62L46.12 17.38L45.38 17.38L44.62 19.88L44.62 21.12L46.12 21.88L49.12 22.12L50.88 21.62L52.38 20.62L53.38 18.88L53.38 16.62L52.88 15.62L49.62 12.62L48.62 11.12L48.88 9.62L49.88 8.62L51.88 8.62L52.62 9.38L52.62 10.38L52.12 10.88L52.12 11.38L52.88 11.88L54.12 11.62L54.88 10.88L54.88 9.38ZM24.12 7.38L22.38 7.38L22.12 7.62L21.12 7.62L19.62 8.12L19.62 8.88L19.88 9.12L21.12 9.12L21.62 9.62L21.62 11.62L21.38 11.88L21.38 13.12L21.12 13.38L21.12 14.62L20.88 14.88L20.88 16.12L20.38 17.88L20.38 19.38L20.12 19.62L20.12 21.12L20.38 21.62L21.12 22.12L23.12 21.88L25.12 20.62L24.88 19.62L24.12 20.12L23.12 20.12L22.62 19.62L23.38 14.12L23.62 13.88L23.62 12.62L23.88 12.38L23.88 11.12L24.12 10.88L24.12 9.62L24.38 9.38L24.38 7.62ZM23.12 2.12L22.38 2.62L21.88 3.88L21.88 4.62L22.62 5.38L23.88 5.38L24.88 4.38L24.88 2.88L24.12 2.12ZM98.88 1.38L97.12 1.38L88.88 19.88L87.88 20.62L86.62 20.88L86.38 21.12L86.38 21.88L93.38 21.88L93.38 20.88L91.62 20.62L90.62 20.12L90.62 19.62L91.38 18.38L92.12 16.12L92.88 15.12L98.38 15.12L98.62 15.38L98.88 17.88L99.12 18.12L99.12 19.62L99.38 19.88L98.88 20.38L97.38 20.88L96.38 20.88L96.12 21.88L104.12 21.88L104.12 20.88L102.38 20.38L101.88 19.62L101.88 18.38L101.62 18.12L101.62 16.88L101.38 16.62L101.38 15.38L101.12 15.12L101.12 13.88L100.88 13.62L100.88 12.38L100.62 12.12L100.62 10.88L100.38 10.62L100.38 9.38L100.12 9.12L100.12 7.88L99.88 7.62L99.88 6.38L99.62 6.12L99.62 4.88L99.38 4.62ZM96.88 5.62L97.38 6.38L97.38 7.88L97.62 8.12L97.62 9.62L97.88 9.88L97.88 11.38L98.12 11.62L98.38 13.62L98.12 13.88L93.62 13.88L93.38 13.62L93.62 12.62ZM0.88 1.38L0.12 6.38L1.38 6.38L1.38 5.62L2.38 3.62L3.12 2.88L7.12 2.88L7.38 3.12L4.62 19.88L3.62 20.62L1.88 20.88L1.62 21.12L1.62 21.88L10.12 21.88L10.12 20.88L9.12 20.88L7.12 20.12L7.62 16.12L7.88 15.88L7.88 14.38L8.12 14.12L8.12 12.88L8.62 11.12L8.62 9.62L8.88 9.38L8.88 8.12L9.12 7.88L9.12 6.62L9.62 4.88L9.62 3.38L10.12 2.88L13.88 2.88L14.62 4.88L14.62 6.38L15.62 6.38L15.88 6.12L15.88 4.62L16.38 2.88L16.38 1.38ZM114.38 0.62L111.38 0.62L109.62 1.12L109.62 1.88L110.38 1.88L111.88 2.62L111.88 4.62L111.62 4.88L111.38 7.88L111.12 8.12L111.12 9.38L110.88 9.62L110.88 10.88L110.62 11.12L110.62 12.38L110.12 14.12L110.12 15.62L109.62 17.38L109.62 18.88L109.38 19.12L109.38 21.38L109.62 21.88L110.12 22.12L111.62 22.12L114.38 20.38L114.12 19.62L113.38 20.12L112.12 20.12L111.88 19.88L111.88 18.38L112.12 18.12L112.12 16.88L112.62 15.12L112.62 13.62L112.88 13.38L112.88 12.12L113.12 11.88L113.12 10.62L113.38 10.38L113.38 9.12L113.62 8.88L113.62 7.62L114.12 5.88L114.12 4.38L114.62 2.62L114.62 0.88ZM152.12 0.12L151.38 0.88L153.38 4.12L154.12 6.62L154.12 7.88L154.38 8.12L154.12 13.38L152.62 18.38L150.12 22.62L147.38 25.62L147.88 26.38L149.38 25.38L152.12 22.62L154.12 19.88L155.38 17.38L156.62 12.88L156.62 8.38L156.38 8.12L156.38 7.12L155.88 5.38L153.88 1.88ZM130.38 0.12L125.88 4.38L124.12 6.88L122.88 9.38L122.12 11.62L122.12 12.88L121.88 13.12L121.62 16.38L121.88 16.62L121.88 18.62L122.12 18.88L122.38 20.62L123.38 22.88L125.12 25.38L126.38 26.38L126.88 25.88L126.88 25.38L125.88 24.12L124.88 22.12L124.38 20.38L124.38 19.38L124.12 19.12L124.12 14.12L124.38 13.88L124.38 12.62L125.38 9.12L127.12 5.62L129.12 2.88L131.12 0.88ZM62.88 0.12L62.12 0.88L63.62 2.88L63.62 3.38L64.62 5.38L64.62 6.12L65.12 7.38L65.12 12.12L64.88 12.38L64.88 13.62L64.62 13.88L64.12 16.62L62.12 20.88L60.12 23.62L58.12 25.62L58.88 26.38L63.12 22.38L64.62 20.38L66.38 16.88L67.12 14.38L67.12 13.38L67.38 13.12L67.38 7.88L67.12 7.62L66.88 5.88L64.88 2.12ZM41.38 0.12L39.88 1.12L36.88 4.12L35.38 6.12L33.88 8.88L32.62 13.38L32.62 18.38L32.88 18.62L32.88 19.62L33.38 21.12L35.12 24.38L37.12 26.38L37.88 25.62L36.38 23.62L36.38 23.12L35.38 21.12L35.12 18.88L34.88 18.62L35.12 12.88L36.38 8.62L37.62 6.12L40.12 2.62L41.88 0.88Z" fill="#2a84a6" stroke="#2a84a6" stroke-width="0.20" vector-effect="non-scaling-stroke"/>
<path transform="translate(252.71 543.61) rotate(-50.894) scale(0.9662 1.0000)" d="M76.12 13.62L74.38 13.62L73.62 13.88L72.62 15.12L72.62 16.62L73.12 17.38L72.88 17.62L71.62 17.62L71.38 17.38L71.38 16.38L71.12 16.12L71.12 15.12L70.62 13.62L68.62 14.12L69.12 17.12L69.38 17.38L69.38 18.62L69.62 18.88L70.38 26.88L72.38 26.88L71.88 19.62L72.12 19.38L75.62 19.38L77.38 18.62L77.12 16.88L75.88 17.38L75.12 17.38L74.38 16.38L74.38 15.88L74.88 15.38L76.38 15.38L76.38 13.88ZM30.88 13.88L29.88 13.88L29.62 13.62L29.12 15.12L27.88 16.12L25.38 15.88L24.62 13.62L22.62 14.12L23.12 17.12L23.38 17.38L23.38 18.62L23.62 18.88L24.38 26.88L26.38 26.88L26.12 21.62L25.88 21.38L25.62 18.38L25.88 18.12L28.38 18.12L29.62 17.62L30.88 15.88L31.12 15.12L31.12 14.12ZM0.12 0.38L0.12 1.38L2.38 1.88L2.88 2.38L2.88 18.88L1.88 19.62L0.38 19.88L0.12 20.12L0.12 20.88L8.38 20.88L8.38 19.88L6.38 19.62L5.38 18.88L5.38 11.38L5.62 11.12L13.88 11.12L14.12 11.38L14.12 18.88L13.12 19.62L11.38 19.88L11.12 20.88L19.38 20.88L19.38 19.88L17.62 19.62L16.62 18.88L16.62 2.38L17.12 1.88L19.38 1.38L19.38 0.38L11.38 0.38L11.12 1.38L12.88 1.62L14.12 2.38L14.12 9.62L13.88 9.88L5.88 9.88L5.38 9.38L5.38 2.38L5.88 1.88L8.12 1.38L8.38 1.12L8.38 0.38ZM54.88 0.38L54.62 0.62L53.88 0.62L52.12 1.62L50.88 2.88L50.12 4.12L49.38 6.62L49.38 7.62L49.12 7.88L49.12 13.38L49.38 13.62L49.62 15.62L50.88 18.38L52.38 19.88L53.88 20.62L55.62 20.88L55.88 21.12L58.88 21.12L59.12 20.88L60.12 20.88L61.62 20.38L63.12 19.38L64.88 16.62L65.38 15.12L65.62 10.88L65.88 10.62L65.62 10.38L65.38 6.12L63.88 2.88L62.38 1.38L60.12 0.38L58.62 0.38L58.38 0.12ZM57.38 1.38L57.62 1.62L59.12 1.62L60.12 2.12L61.62 3.62L62.62 6.12L62.62 7.62L62.88 7.88L62.88 13.38L62.62 13.62L62.38 16.12L61.88 16.88L61.88 17.38L60.62 18.88L58.38 19.88L55.62 19.62L54.62 19.12L53.12 17.62L52.12 14.62L52.12 12.62L51.88 12.38L51.88 8.88L52.12 8.62L52.12 6.62L52.38 6.38L52.62 4.62L53.38 3.38L54.62 2.12L55.88 1.62L57.12 1.62ZM40.12 0.12L37.62 0.88L36.38 1.88L35.12 4.38L35.12 6.88L35.62 8.12L36.62 9.38L37.62 10.12L41.12 11.88L42.12 12.12L44.38 14.12L44.88 15.12L44.88 16.88L44.38 18.12L43.38 19.12L42.38 19.62L41.38 19.62L41.12 19.88L38.88 19.62L37.12 18.88L36.38 16.88L36.12 14.62L34.88 14.62L34.88 19.62L35.62 20.12L38.88 21.12L41.88 21.12L44.38 20.38L46.38 18.88L47.12 17.62L47.12 16.88L47.38 16.62L47.38 13.88L46.38 11.88L45.12 10.62L39.38 7.88L37.88 6.38L37.62 5.88L37.62 3.62L37.88 3.12L39.62 1.62L42.88 1.62L44.62 3.12L44.62 3.88L44.12 4.62L44.12 5.38L44.88 5.88L46.12 5.88L46.88 5.12L47.12 3.88L46.88 3.62L46.88 2.88L45.62 1.38L43.38 0.38Z" fill="#2a84a6" stroke="#2a84a6" stroke-width="0.20" vector-effect="non-scaling-stroke"/>
<path transform="translate(289.40 566.73) rotate(-54.653) scale(0.9883 1.0000)" d="M49.88 13.62L48.88 13.62L48.62 13.38L48.12 15.12L46.88 15.88L44.38 15.62L44.12 15.38L43.88 13.38L41.62 13.88L42.12 15.12L42.38 17.62L42.62 17.88L42.62 19.38L42.88 19.62L43.12 23.62L43.38 23.88L43.38 26.62L45.38 26.62L45.38 22.88L45.12 22.62L45.12 20.38L44.88 20.12L44.88 18.38L44.62 18.12L44.88 17.88L47.62 17.88L48.62 17.38L49.88 15.88L50.12 14.12L50.38 13.88ZM7.38 2.38L7.38 9.62L7.12 9.88L0.12 9.88L0.12 11.88L7.12 11.88L7.38 12.12L7.38 19.12L9.62 19.12L9.62 12.12L9.88 11.88L16.88 11.88L17.12 11.62L17.12 9.88L9.88 9.88L9.62 9.62L9.62 2.38ZM19.38 0.38L19.12 1.38L20.88 1.62L22.12 2.38L22.12 18.88L21.12 19.62L19.38 19.88L19.12 20.88L27.38 20.88L27.62 20.38L27.38 19.88L25.62 19.62L24.62 18.88L24.62 11.38L24.88 11.12L33.12 11.12L33.38 11.38L33.38 18.88L32.38 19.62L30.62 19.88L30.38 20.12L30.38 20.88L38.62 20.88L38.62 19.88L36.88 19.62L35.88 18.88L35.88 2.38L36.88 1.62L38.38 1.38L38.62 1.12L38.62 0.38L30.38 0.38L30.38 1.38L32.12 1.62L33.38 2.38L33.38 9.38L32.88 9.88L24.88 9.88L24.62 9.62L24.62 2.38L25.62 1.62L27.38 1.38L27.62 0.38ZM59.88 0.38L57.12 1.62L56.12 2.62L55.12 4.38L54.38 6.88L54.38 8.12L54.12 8.38L54.12 12.88L54.38 13.12L54.62 15.38L56.12 18.62L57.38 19.88L58.88 20.62L60.88 20.88L61.12 21.12L63.88 21.12L64.12 20.88L66.12 20.62L67.88 19.62L68.62 18.88L69.88 16.88L70.38 15.38L70.62 12.12L70.88 11.88L70.88 9.38L70.62 9.12L70.38 6.12L69.12 3.12L68.62 2.38L67.12 1.12L66.62 1.12L65.12 0.38L63.62 0.38L63.38 0.12ZM60.88 1.62L64.12 1.62L65.88 2.62L67.12 4.38L67.62 5.88L67.62 7.12L67.88 7.38L67.88 13.88L67.62 14.12L67.38 16.38L66.62 17.88L65.38 19.12L63.38 19.88L61.88 19.88L59.62 19.12L58.38 17.88L57.12 14.12L57.12 10.88L56.88 10.38L57.12 10.12L57.12 6.88L57.38 6.62L57.38 5.62L58.62 3.12L59.38 2.38Z" fill="#2a84a6" stroke="#2a84a6" stroke-width="0.20" vector-effect="non-scaling-stroke"/>
<path transform="translate(447.89 484.11) rotate(52.017) scale(1.0704 1.0000)" d="M106.12 13.38L104.38 13.38L103.62 13.62L102.62 14.88L102.62 16.38L103.12 17.12L102.88 17.38L101.62 17.38L101.38 17.12L101.38 16.12L101.12 15.88L101.12 14.88L100.62 13.38L98.62 13.88L99.12 16.88L99.38 17.12L99.38 18.38L99.62 18.62L100.38 26.62L102.38 26.62L101.88 19.38L102.12 19.12L105.62 19.12L107.38 18.38L107.12 16.62L105.88 17.12L105.12 17.12L104.38 16.12L104.38 15.62L104.88 15.12L106.38 15.12L106.38 13.62ZM63.38 7.38L63.62 8.12L65.12 8.12L65.62 8.62L65.38 11.38L64.88 13.12L64.88 14.62L64.62 14.88L64.62 16.12L64.12 17.88L63.88 20.88L66.12 20.88L66.62 17.12L66.88 16.88L66.88 15.62L67.88 12.12L69.12 9.62L71.12 7.88L72.62 7.88L73.62 8.88L73.62 9.62L73.88 9.88L73.38 13.62L72.88 15.12L72.88 16.38L72.62 16.62L72.38 20.38L73.12 21.12L74.62 21.12L77.38 19.38L77.12 18.62L76.38 19.12L75.12 19.12L74.88 18.88L75.62 13.12L76.12 11.62L76.12 9.88L76.38 9.62L76.12 9.38L76.12 8.12L75.12 6.88L73.88 6.38L71.88 6.38L71.12 6.62L68.88 8.62L68.12 9.88L67.88 9.62L67.88 8.62L68.12 8.38L68.12 6.62L67.88 6.38L66.12 6.38L65.88 6.62L64.12 6.88ZM7.38 2.38L7.38 9.62L7.12 9.88L0.12 9.88L0.12 11.88L7.12 11.88L7.38 12.12L7.38 19.12L9.62 19.12L9.62 12.12L9.88 11.88L16.88 11.88L17.12 11.62L17.12 9.88L9.88 9.88L9.62 9.62L9.62 2.38ZM39.38 0.62L39.38 1.38L41.38 1.88L41.88 2.38L41.88 3.62L41.38 5.38L41.38 6.88L41.12 7.12L41.12 8.38L40.88 8.62L40.62 11.62L40.38 11.88L40.38 13.12L40.12 13.38L39.38 18.88L38.38 19.62L36.88 19.88L36.62 20.12L36.62 20.88L43.62 20.88L43.88 20.62L43.62 19.88L42.88 19.88L41.12 19.12L41.88 12.62L42.12 12.38L42.12 10.88L42.38 10.62L42.38 9.12L42.62 8.88L42.62 7.38L42.88 7.12L42.88 5.62L43.12 5.38L43.88 7.12L43.88 8.12L44.88 11.38L44.88 12.38L45.88 15.62L45.88 16.62L46.62 18.88L46.88 20.88L48.38 20.88L48.88 20.38L55.38 8.12L57.12 5.38L57.38 5.88L57.12 6.12L57.12 7.38L56.62 8.88L56.12 13.12L55.62 14.62L55.12 18.88L54.12 19.62L52.38 19.88L52.12 20.88L60.12 20.88L60.12 19.88L58.38 19.62L57.38 18.88L57.62 18.62L57.88 15.62L58.12 15.38L58.12 14.12L58.62 12.38L58.62 10.88L58.88 10.62L58.88 9.38L59.12 9.12L59.12 7.88L59.62 6.12L59.88 3.12L60.62 1.88L62.88 1.38L62.88 0.38L58.12 0.38L51.12 13.38L48.62 17.38L48.38 17.12L48.38 16.12L47.62 13.88L47.62 12.88L46.88 10.62L46.88 9.62L46.12 7.38L46.12 6.38L45.88 6.12L44.62 0.38L39.62 0.38ZM21.38 0.38L21.12 1.38L23.38 1.88L23.88 2.62L23.62 2.88L23.62 4.12L23.38 4.38L23.12 7.38L22.88 7.62L22.88 8.88L22.62 9.12L22.62 10.38L22.38 10.62L22.12 13.62L21.88 13.88L21.88 15.12L21.62 15.38L21.12 19.12L20.38 19.62L18.62 19.88L18.38 20.12L18.38 20.88L26.38 20.88L26.38 19.88L24.62 19.62L23.62 18.88L23.88 16.88L24.12 16.62L24.12 15.38L24.38 15.12L24.38 13.88L24.62 13.62L24.88 10.62L25.12 10.38L25.62 10.62L30.12 19.88L31.38 20.88L34.88 20.88L35.12 20.62L35.12 19.88L33.62 19.62L32.38 18.38L27.88 9.62L35.12 1.88L37.38 1.38L37.38 0.38L30.88 0.38L30.88 1.12L30.62 1.38L31.38 1.38L32.12 2.12L31.88 3.12L25.38 10.12L25.12 9.88L25.12 9.12L25.62 7.38L26.12 2.88L26.62 1.88L27.88 1.38L28.62 1.38L28.62 0.38ZM92.88 0.62L91.12 0.38L90.88 0.12L89.38 0.12L89.12 0.38L87.88 0.38L84.88 1.62L82.62 3.88L81.12 6.38L80.12 9.62L79.88 15.12L80.88 18.38L82.12 19.88L83.38 20.62L85.12 20.88L85.38 21.12L87.12 21.12L87.38 20.88L89.62 20.62L91.88 19.38L93.62 17.62L95.12 15.12L96.38 10.88L96.38 8.12L96.62 7.88L96.38 7.62L96.38 5.38L95.38 2.62L93.88 1.12ZM91.12 1.62L92.62 2.88L93.62 5.12L93.62 10.62L93.38 10.88L93.12 13.12L91.62 16.62L89.38 19.12L87.62 19.88L85.88 19.88L84.12 18.88L82.88 16.62L82.62 12.12L82.88 11.88L82.88 10.12L83.12 9.88L83.38 7.88L84.62 4.88L87.12 2.12L89.38 1.38Z" fill="#2a84a6" stroke="#2a84a6" stroke-width="0.20" vector-effect="non-scaling-stroke"/>
<path transform="translate(526.64 584.02) rotate(52.837) scale(0.9103 1.0000)" d="M39.38 23.88L38.62 25.12L39.12 26.12L39.62 26.38L40.88 26.12L41.38 25.38L41.12 24.38L40.62 23.88ZM35.62 23.88L34.88 24.62L34.88 25.38L35.38 26.12L36.62 26.38L37.38 25.62L37.38 24.38L36.88 23.88ZM60.88 12.12L60.38 12.12L58.62 13.12L59.12 13.62L60.38 16.62L60.38 19.12L59.12 21.62L57.38 23.12L55.12 24.38L54.12 24.62L54.88 26.88L58.12 25.38L59.88 24.12L62.12 20.88L62.62 19.12L62.62 16.62L62.38 16.38L62.12 14.62ZM53.62 10.62L52.62 8.88L50.88 7.62L48.62 7.62L47.88 7.88L46.12 9.62L45.12 12.38L45.12 13.62L45.62 15.12L46.38 15.88L48.12 16.62L50.38 16.62L50.62 16.38L51.38 16.62L50.38 17.88L49.38 18.38L48.12 18.38L47.88 18.62L41.38 18.62L40.12 18.12L39.62 17.38L39.62 15.38L40.12 13.88L38.62 13.38L37.88 13.38L37.12 16.88L35.88 18.38L35.38 18.62L31.62 18.62L31.12 17.62L31.12 16.12L30.62 14.62L29.62 13.12L27.88 12.12L25.88 12.12L24.88 12.62L23.38 14.12L22.38 16.38L22.38 18.38L22.62 19.12L24.38 20.62L25.12 20.88L28.38 20.88L28.62 21.12L28.38 22.38L27.12 23.88L24.88 25.12L22.38 25.38L22.12 25.62L19.62 25.62L17.38 24.88L16.62 24.38L15.38 22.88L15.12 20.88L15.38 20.62L15.62 18.88L16.38 17.62L14.88 16.88L14.12 16.88L13.12 19.12L13.12 19.88L12.88 20.12L12.88 23.12L13.88 25.38L15.12 26.62L16.62 27.38L18.62 27.62L18.88 27.88L23.12 27.88L23.38 27.62L24.38 27.62L26.12 27.12L28.88 25.38L29.88 24.12L30.62 22.62L30.88 21.38L31.38 20.88L33.12 20.88L33.38 21.12L35.88 20.88L37.88 19.88L38.38 19.12L39.38 20.38L40.62 20.88L43.12 20.88L43.88 21.12L44.12 20.88L48.12 20.88L48.38 20.62L50.12 20.38L51.62 19.62L52.88 18.38L53.62 17.12L53.88 14.88L54.12 14.62ZM26.12 14.38L27.12 14.38L28.12 15.12L28.88 16.62L28.88 18.38L28.62 18.62L25.88 18.62L24.62 17.62L24.88 15.62ZM48.88 9.88L50.12 9.88L51.12 10.88L51.88 12.88L51.88 13.88L51.12 14.38L48.88 14.38L47.62 13.62L47.38 12.12L47.88 10.88ZM28.62 6.62L27.62 7.38L27.38 8.12L27.88 9.12L29.12 9.38L29.88 8.88L30.12 7.62L29.38 6.88ZM24.88 6.62L23.88 7.12L23.62 8.38L24.12 9.12L25.38 9.38L26.12 8.62L26.12 7.38ZM51.12 2.12L50.12 2.88L49.88 3.62L50.38 4.62L51.62 4.88L52.38 4.38L52.62 3.12L51.88 2.38ZM47.38 2.12L46.38 2.62L46.12 3.88L46.62 4.62L47.88 4.88L48.62 4.12L48.62 2.88ZM67.38 0.12L70.12 5.12L71.38 9.38L71.62 13.12L71.88 13.38L71.62 18.12L71.38 18.38L71.38 19.62L70.88 20.62L70.88 21.38L70.12 23.62L68.62 26.62L67.38 28.38L67.38 28.62L69.62 28.62L71.88 25.62L73.62 21.38L73.62 20.62L74.12 19.38L74.12 17.88L74.38 17.62L74.38 11.12L74.12 10.88L74.12 9.62L73.88 9.38L73.88 8.38L73.12 5.88L71.12 1.88L69.62 0.12ZM4.88 0.12L3.12 2.62L1.12 7.12L1.12 7.88L0.62 9.12L0.62 10.38L0.38 10.62L0.12 15.62L0.38 15.88L0.38 18.12L0.62 18.38L0.62 19.62L0.88 19.88L1.12 21.62L3.38 26.62L4.88 28.62L7.38 28.62L5.88 26.38L4.38 23.12L3.88 20.88L3.38 19.88L3.38 18.62L2.88 16.88L2.88 12.12L3.12 11.88L3.12 10.12L3.38 9.88L3.62 7.88L4.62 4.88L7.38 0.12Z" fill="#2a84a6" stroke="#2a84a6" stroke-width="0.20" vector-effect="non-scaling-stroke"/>
</svg></body></html>
